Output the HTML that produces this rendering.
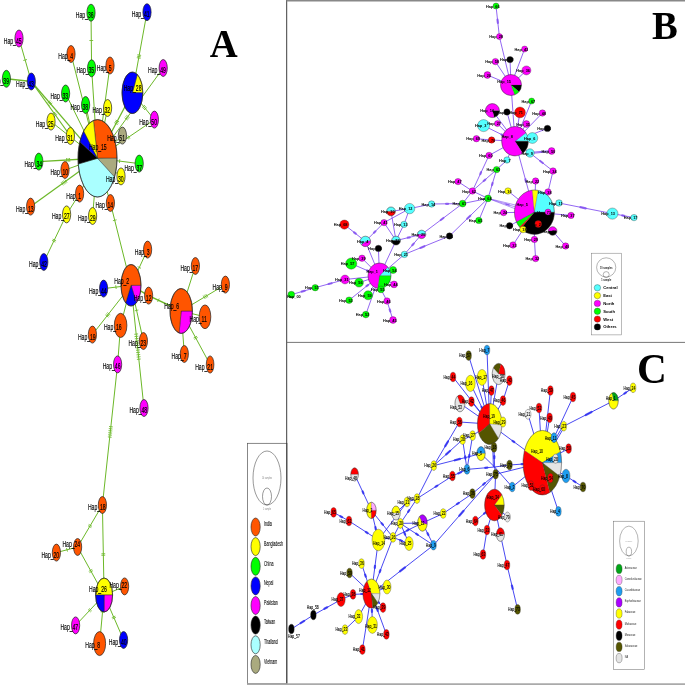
<!DOCTYPE html><html><head><meta charset="utf-8"><title>Haplotype networks</title>
<style>html,body{margin:0;padding:0;background:#fff}svg{display:block}text{font-family:"Liberation Sans",sans-serif}.ser{font-family:"Liberation Serif",serif;font-weight:bold}</style></head><body>
<svg width="685" height="685" viewBox="0 0 685 685">
<rect width="685" height="685" fill="#fff"/>
<g id="panelA">
<line x1="91.0" y1="12.7" x2="91.6" y2="68.3" stroke="#6cb828" stroke-width="1.0"/>
<path d="M93.2 40.5L89.4 40.5" stroke="#6cb828" stroke-width="0.85" fill="none"/>
<line x1="91.6" y1="68.3" x2="97.5" y2="158.3" stroke="#6cb828" stroke-width="1.0"/>
<line x1="71.0" y1="54.0" x2="97.5" y2="158.3" stroke="#6cb828" stroke-width="1.0"/>
<line x1="65.6" y1="93.5" x2="97.5" y2="158.3" stroke="#6cb828" stroke-width="1.0"/>
<path d="M91.2 141.3L87.8 142.9" stroke="#6cb828" stroke-width="0.85" fill="none"/>
<line x1="85.6" y1="105.0" x2="97.5" y2="158.3" stroke="#6cb828" stroke-width="1.0"/>
<line x1="107.6" y1="108.0" x2="97.5" y2="158.3" stroke="#6cb828" stroke-width="1.0"/>
<line x1="110.0" y1="65.5" x2="97.5" y2="158.3" stroke="#6cb828" stroke-width="1.0"/>
<path d="M101.9 140.0L98.1 139.5" stroke="#6cb828" stroke-width="0.85" fill="none"/>
<line x1="19.0" y1="38.5" x2="31.3" y2="81.5" stroke="#6cb828" stroke-width="1.0"/>
<path d="M27.0 59.5L23.3 60.5" stroke="#6cb828" stroke-width="0.85" fill="none"/>
<line x1="6.4" y1="78.8" x2="31.3" y2="81.5" stroke="#6cb828" stroke-width="1.4"/>
<line x1="31.3" y1="81.5" x2="97.5" y2="158.3" stroke="#6cb828" stroke-width="1.2"/>
<path d="M50.3 100.6L47.4 103.1M51.3 101.8L48.4 104.2M52.3 102.9L49.4 105.4" stroke="#6cb828" stroke-width="0.85" fill="none"/>
<line x1="31.3" y1="81.5" x2="70.4" y2="136.0" stroke="#6cb828" stroke-width="1.2"/>
<path d="M55.4 111.9L52.3 114.1M56.3 113.1L53.2 115.3M57.2 114.3L54.1 116.5" stroke="#6cb828" stroke-width="0.85" fill="none"/>
<line x1="51.0" y1="121.6" x2="97.5" y2="158.3" stroke="#6cb828" stroke-width="1.0"/>
<line x1="147.0" y1="12.2" x2="132.4" y2="92.8" stroke="#6cb828" stroke-width="1.0"/>
<path d="M141.1 55.4L137.4 54.7M140.8 56.9L137.1 56.2M140.6 58.3L136.8 57.7" stroke="#6cb828" stroke-width="0.85" fill="none"/>
<line x1="163.2" y1="68.0" x2="97.5" y2="158.3" stroke="#6cb828" stroke-width="1.0"/>
<path d="M129.5 117.6L126.4 115.3M128.6 118.8L125.5 116.5M127.7 120.0L124.6 117.8" stroke="#6cb828" stroke-width="0.85" fill="none"/>
<line x1="154.4" y1="119.6" x2="132.4" y2="92.8" stroke="#6cb828" stroke-width="1.0"/>
<path d="M144.0 109.9L146.9 107.5M143.0 108.7L146.0 106.3M142.1 107.6L145.0 105.2" stroke="#6cb828" stroke-width="0.85" fill="none"/>
<line x1="132.4" y1="92.8" x2="97.5" y2="158.3" stroke="#6cb828" stroke-width="1.3"/>
<path d="M119.1 121.8L115.7 120.1M118.4 123.2L115.0 121.4M117.7 124.5L114.3 122.7" stroke="#6cb828" stroke-width="0.85" fill="none"/>
<line x1="154.4" y1="119.6" x2="97.5" y2="158.3" stroke="#6cb828" stroke-width="1.0"/>
<path d="M129.9 138.6L127.8 135.4M128.7 139.4L126.5 136.3" stroke="#6cb828" stroke-width="0.85" fill="none"/>
<line x1="122.4" y1="135.6" x2="97.5" y2="158.3" stroke="#6cb828" stroke-width="1.0"/>
<line x1="38.8" y1="161.6" x2="97.5" y2="158.3" stroke="#6cb828" stroke-width="1.4"/>
<path d="M66.5 158.1L66.8 161.9M68.0 158.1L68.3 161.8M69.5 158.0L69.8 161.8" stroke="#6cb828" stroke-width="0.85" fill="none"/>
<line x1="65.0" y1="170.0" x2="97.5" y2="158.3" stroke="#6cb828" stroke-width="1.0"/>
<line x1="30.6" y1="206.6" x2="97.5" y2="158.3" stroke="#6cb828" stroke-width="1.2"/>
<path d="M61.1 182.2L63.3 185.3M62.3 181.3L64.6 184.4M63.5 180.5L65.8 183.6M64.8 179.6L67.0 182.7" stroke="#6cb828" stroke-width="0.85" fill="none"/>
<line x1="79.6" y1="193.6" x2="97.5" y2="158.3" stroke="#6cb828" stroke-width="1.0"/>
<line x1="66.6" y1="214.4" x2="79.6" y2="193.6" stroke="#6cb828" stroke-width="1.0"/>
<line x1="66.6" y1="214.4" x2="43.8" y2="262.0" stroke="#6cb828" stroke-width="1.0"/>
<path d="M56.1 240.7L52.7 239.1M55.4 242.1L52.0 240.4" stroke="#6cb828" stroke-width="0.85" fill="none"/>
<line x1="92.6" y1="216.0" x2="97.5" y2="158.3" stroke="#6cb828" stroke-width="1.0"/>
<line x1="110.4" y1="203.0" x2="97.5" y2="158.3" stroke="#6cb828" stroke-width="1.0"/>
<line x1="110.4" y1="203.0" x2="131.0" y2="285.3" stroke="#6cb828" stroke-width="1.0"/>
<path d="M116.6 219.8L112.9 220.7" stroke="#6cb828" stroke-width="0.85" fill="none"/>
<line x1="121.0" y1="176.4" x2="97.5" y2="158.3" stroke="#6cb828" stroke-width="1.0"/>
<line x1="139.2" y1="163.6" x2="97.5" y2="158.3" stroke="#6cb828" stroke-width="1.0"/>
<path d="M119.4 163.0L119.8 159.2" stroke="#6cb828" stroke-width="0.85" fill="none"/>
<line x1="147.6" y1="249.6" x2="131.0" y2="285.3" stroke="#6cb828" stroke-width="1.0"/>
<path d="M141.0 268.3L137.6 266.6" stroke="#6cb828" stroke-width="0.85" fill="none"/>
<line x1="103.6" y1="288.6" x2="131.0" y2="285.3" stroke="#6cb828" stroke-width="1.0"/>
<path d="M115.7 285.2L116.2 289.0" stroke="#6cb828" stroke-width="0.85" fill="none"/>
<line x1="92.4" y1="334.6" x2="131.0" y2="285.3" stroke="#6cb828" stroke-width="1.0"/>
<path d="M105.4 314.9L108.4 317.2M106.3 313.7L109.3 316.1M107.3 312.5L110.3 314.9" stroke="#6cb828" stroke-width="0.85" fill="none"/>
<line x1="120.6" y1="325.4" x2="131.0" y2="285.3" stroke="#6cb828" stroke-width="1.0"/>
<line x1="120.6" y1="325.4" x2="117.6" y2="364.4" stroke="#6cb828" stroke-width="1.0"/>
<line x1="148.6" y1="295.6" x2="131.0" y2="285.3" stroke="#6cb828" stroke-width="1.4"/>
<line x1="148.6" y1="295.6" x2="181.2" y2="311.0" stroke="#6cb828" stroke-width="1.4"/>
<path d="M159.2 298.5L157.6 301.9" stroke="#6cb828" stroke-width="0.85" fill="none"/>
<line x1="143.4" y1="341.0" x2="131.0" y2="285.3" stroke="#6cb828" stroke-width="1.0"/>
<path d="M134.7 310.8L138.4 310.0" stroke="#6cb828" stroke-width="0.85" fill="none"/>
<line x1="131.0" y1="285.3" x2="144.0" y2="408.0" stroke="#6cb828" stroke-width="1.0"/>
<path d="M138.1 333.9L134.3 334.3M138.3 336.2L134.5 336.6M138.5 338.4L134.8 338.8M138.8 340.7L135.0 341.1M139.0 343.0L135.2 343.4M139.3 345.3L135.5 345.7M139.5 347.6L135.7 348.0M139.8 349.9L136.0 350.3M140.0 352.2L136.2 352.6M140.2 354.5L136.5 354.9M140.5 356.7L136.7 357.1M140.7 359.0L136.9 359.4" stroke="#6cb828" stroke-width="0.85" fill="none"/>
<line x1="195.4" y1="266.0" x2="181.2" y2="311.0" stroke="#6cb828" stroke-width="1.0"/>
<path d="M188.0 295.8L184.4 294.7" stroke="#6cb828" stroke-width="0.85" fill="none"/>
<line x1="225.4" y1="284.6" x2="181.2" y2="311.0" stroke="#6cb828" stroke-width="1.0"/>
<path d="M207.8 297.3L205.8 294.1M206.5 298.1L204.5 294.8M205.2 298.9L203.2 295.6" stroke="#6cb828" stroke-width="0.85" fill="none"/>
<line x1="205.0" y1="316.8" x2="181.2" y2="311.0" stroke="#6cb828" stroke-width="1.0"/>
<line x1="184.3" y1="354.0" x2="181.2" y2="311.0" stroke="#6cb828" stroke-width="1.0"/>
<line x1="210.1" y1="364.5" x2="181.2" y2="311.0" stroke="#6cb828" stroke-width="1.0"/>
<path d="M194.3 339.3L197.7 337.5M193.6 338.0L197.0 336.2" stroke="#6cb828" stroke-width="0.85" fill="none"/>
<line x1="117.6" y1="364.4" x2="102.4" y2="505.0" stroke="#6cb828" stroke-width="1.0"/>
<path d="M112.8 426.9L109.0 426.5M112.5 429.0L108.8 428.6M112.3 431.0L108.5 430.6M112.1 433.1L108.3 432.7M111.9 435.2L108.1 434.8M111.6 437.3L107.9 436.9" stroke="#6cb828" stroke-width="0.85" fill="none"/>
<line x1="102.4" y1="505.0" x2="77.6" y2="547.0" stroke="#6cb828" stroke-width="1.0"/>
<path d="M92.0 526.3L88.7 524.4M91.3 527.6L88.0 525.7" stroke="#6cb828" stroke-width="0.85" fill="none"/>
<line x1="77.6" y1="547.0" x2="56.4" y2="552.6" stroke="#6cb828" stroke-width="1.0"/>
<path d="M67.5 551.6L66.5 548.0" stroke="#6cb828" stroke-width="0.85" fill="none"/>
<line x1="77.6" y1="547.0" x2="104.1" y2="595.0" stroke="#6cb828" stroke-width="1.0"/>
<path d="M92.2 569.4L88.8 571.3M92.9 570.7L89.5 572.6" stroke="#6cb828" stroke-width="0.85" fill="none"/>
<line x1="102.4" y1="505.0" x2="104.1" y2="595.0" stroke="#6cb828" stroke-width="1.0"/>
<path d="M105.2 553.7L101.4 553.8M105.2 555.2L101.4 555.3" stroke="#6cb828" stroke-width="0.85" fill="none"/>
<line x1="104.1" y1="595.0" x2="124.6" y2="586.4" stroke="#6cb828" stroke-width="1.0"/>
<line x1="104.1" y1="595.0" x2="75.6" y2="625.4" stroke="#6cb828" stroke-width="1.0"/>
<path d="M91.7 611.0L89.0 608.4M90.7 612.0L88.0 609.4" stroke="#6cb828" stroke-width="0.85" fill="none"/>
<line x1="104.1" y1="595.0" x2="99.6" y2="643.6" stroke="#6cb828" stroke-width="1.0"/>
<path d="M104.4 612.2L100.6 611.8" stroke="#6cb828" stroke-width="0.85" fill="none"/>
<line x1="104.1" y1="595.0" x2="123.6" y2="640.0" stroke="#6cb828" stroke-width="1.0"/>
<path d="M115.3 616.1L111.8 617.6M115.9 617.4L112.4 618.9" stroke="#6cb828" stroke-width="0.85" fill="none"/>
<ellipse cx="91.0" cy="12.7" rx="4.1" ry="8.5" fill="#00ff00" stroke="#222" stroke-width="0.7"/>
<ellipse cx="19.0" cy="38.5" rx="4.1" ry="8.5" fill="#ff00ff" stroke="#222" stroke-width="0.7"/>
<ellipse cx="71.0" cy="54.0" rx="4.1" ry="8.5" fill="#ff5500" stroke="#222" stroke-width="0.7"/>
<ellipse cx="91.6" cy="68.3" rx="4.1" ry="8.5" fill="#00ff00" stroke="#222" stroke-width="0.7"/>
<ellipse cx="110.0" cy="65.5" rx="4.1" ry="8.5" fill="#ff5500" stroke="#222" stroke-width="0.7"/>
<ellipse cx="6.4" cy="78.8" rx="4.1" ry="8.5" fill="#00ff00" stroke="#222" stroke-width="0.7"/>
<ellipse cx="31.3" cy="81.5" rx="4.1" ry="8.5" fill="#0000ff" stroke="#222" stroke-width="0.7"/>
<ellipse cx="65.6" cy="93.5" rx="4.1" ry="8.5" fill="#00ff00" stroke="#222" stroke-width="0.7"/>
<ellipse cx="85.6" cy="105.0" rx="4.1" ry="8.5" fill="#00ff00" stroke="#222" stroke-width="0.7"/>
<ellipse cx="107.6" cy="108.0" rx="4.1" ry="8.5" fill="#ffff00" stroke="#222" stroke-width="0.7"/>
<ellipse cx="51.0" cy="121.6" rx="4.1" ry="8.5" fill="#ffff00" stroke="#222" stroke-width="0.7"/>
<ellipse cx="70.4" cy="136.0" rx="4.1" ry="8.5" fill="#ffff00" stroke="#222" stroke-width="0.7"/>
<ellipse cx="147.0" cy="12.2" rx="4.1" ry="8.5" fill="#0000ff" stroke="#222" stroke-width="0.7"/>
<ellipse cx="163.2" cy="68.0" rx="4.1" ry="8.5" fill="#ff00ff" stroke="#222" stroke-width="0.7"/>
<ellipse cx="154.4" cy="119.6" rx="4.1" ry="8.5" fill="#ff00ff" stroke="#222" stroke-width="0.7"/>
<path d="M132.4 92.8L137.28 74.52A10.4 20.7 0 0 1 142.80 92.80Z" fill="#ffff00" stroke="#222" stroke-width="0.42" stroke-linejoin="round"/>
<path d="M132.4 92.8L142.80 92.80A10.4 20.7 0 1 1 137.28 74.52Z" fill="#0000ff" stroke="#222" stroke-width="0.42" stroke-linejoin="round"/>
<ellipse cx="132.4" cy="92.8" rx="10.4" ry="20.7" fill="none" stroke="#222" stroke-width="0.7"/>
<ellipse cx="122.4" cy="135.6" rx="4.1" ry="8.5" fill="#aaaa7f" stroke="#222" stroke-width="0.7"/>
<path d="M97.5 158.3L93.45 120.45A19.5 38.7 0 0 1 117.00 158.30Z" fill="#ff5500" stroke="#222" stroke-width="0.42" stroke-linejoin="round"/>
<path d="M97.5 158.3L117.00 158.30A19.5 38.7 0 0 1 114.56 177.06Z" fill="#aaaa7f" stroke="#222" stroke-width="0.42" stroke-linejoin="round"/>
<path d="M97.5 158.3L114.56 177.06A19.5 38.7 0 0 1 78.21 164.02Z" fill="#aaffff" stroke="#222" stroke-width="0.42" stroke-linejoin="round"/>
<path d="M97.5 158.3L78.21 164.02A19.5 38.7 0 0 1 79.88 141.70Z" fill="#000000" stroke="#222" stroke-width="0.42" stroke-linejoin="round"/>
<path d="M97.5 158.3L79.88 141.70A19.5 38.7 0 0 1 83.71 130.93Z" fill="#0000ff" stroke="#222" stroke-width="0.42" stroke-linejoin="round"/>
<path d="M97.5 158.3L83.71 130.93A19.5 38.7 0 0 1 93.45 120.45Z" fill="#ffff00" stroke="#222" stroke-width="0.42" stroke-linejoin="round"/>
<ellipse cx="97.5" cy="158.3" rx="19.5" ry="38.7" fill="none" stroke="#222" stroke-width="0.7"/>
<ellipse cx="38.8" cy="161.6" rx="4.1" ry="8.5" fill="#00ff00" stroke="#222" stroke-width="0.7"/>
<ellipse cx="65.0" cy="170.0" rx="4.1" ry="8.5" fill="#ff5500" stroke="#222" stroke-width="0.7"/>
<ellipse cx="79.6" cy="193.6" rx="4.1" ry="8.5" fill="#ff5500" stroke="#222" stroke-width="0.7"/>
<ellipse cx="30.6" cy="206.6" rx="4.1" ry="8.5" fill="#ff5500" stroke="#222" stroke-width="0.7"/>
<ellipse cx="66.6" cy="214.4" rx="4.1" ry="8.5" fill="#ffff00" stroke="#222" stroke-width="0.7"/>
<ellipse cx="92.6" cy="216.0" rx="4.1" ry="8.5" fill="#ffff00" stroke="#222" stroke-width="0.7"/>
<ellipse cx="110.4" cy="203.0" rx="4.1" ry="8.5" fill="#ff5500" stroke="#222" stroke-width="0.7"/>
<ellipse cx="121.0" cy="176.4" rx="4.1" ry="8.5" fill="#ffff00" stroke="#222" stroke-width="0.7"/>
<ellipse cx="139.2" cy="163.6" rx="4.1" ry="8.5" fill="#00ff00" stroke="#222" stroke-width="0.7"/>
<ellipse cx="43.8" cy="262.0" rx="4.1" ry="8.5" fill="#0000ff" stroke="#222" stroke-width="0.7"/>
<ellipse cx="103.6" cy="288.6" rx="4.1" ry="8.5" fill="#0000ff" stroke="#222" stroke-width="0.7"/>
<path d="M131.0 285.3L141.00 285.30A10.0 20.7 0 0 1 136.36 302.78Z" fill="#ff00ff" stroke="#222" stroke-width="0.42" stroke-linejoin="round"/>
<path d="M131.0 285.3L136.36 302.78A10.0 20.7 0 0 1 125.70 302.85Z" fill="#0000ff" stroke="#222" stroke-width="0.42" stroke-linejoin="round"/>
<path d="M131.0 285.3L125.70 302.85A10.0 20.7 0 1 1 141.00 285.30Z" fill="#ff5500" stroke="#222" stroke-width="0.42" stroke-linejoin="round"/>
<ellipse cx="131.0" cy="285.3" rx="10.0" ry="20.7" fill="none" stroke="#222" stroke-width="0.7"/>
<ellipse cx="147.6" cy="249.6" rx="4.1" ry="8.5" fill="#ff5500" stroke="#222" stroke-width="0.7"/>
<ellipse cx="148.6" cy="295.6" rx="4.1" ry="8.5" fill="#ff5500" stroke="#222" stroke-width="0.7"/>
<ellipse cx="92.4" cy="334.6" rx="4.1" ry="8.5" fill="#ff5500" stroke="#222" stroke-width="0.7"/>
<ellipse cx="120.6" cy="325.4" rx="6.3" ry="12.1" fill="#ff5500" stroke="#222" stroke-width="0.7"/>
<path d="M181.2 311.0L192.40 311.00A11.2 22.4 0 0 1 179.06 332.99Z" fill="#ff00ff" stroke="#222" stroke-width="0.42" stroke-linejoin="round"/>
<path d="M181.2 311.0L179.06 332.99A11.2 22.4 0 1 1 192.40 311.00Z" fill="#ff5500" stroke="#222" stroke-width="0.42" stroke-linejoin="round"/>
<ellipse cx="181.2" cy="311.0" rx="11.2" ry="22.4" fill="none" stroke="#222" stroke-width="0.7"/>
<ellipse cx="195.4" cy="266.0" rx="4.1" ry="8.5" fill="#ff5500" stroke="#222" stroke-width="0.7"/>
<ellipse cx="225.4" cy="284.6" rx="4.1" ry="8.5" fill="#ff5500" stroke="#222" stroke-width="0.7"/>
<ellipse cx="205.0" cy="316.8" rx="5.8" ry="11.9" fill="#ff5500" stroke="#222" stroke-width="0.7"/>
<ellipse cx="184.3" cy="354.0" rx="4.1" ry="8.5" fill="#ff5500" stroke="#222" stroke-width="0.7"/>
<ellipse cx="143.4" cy="341.0" rx="4.1" ry="8.5" fill="#ff5500" stroke="#222" stroke-width="0.7"/>
<ellipse cx="210.1" cy="364.5" rx="3.8" ry="8.6" fill="#ff5500" stroke="#222" stroke-width="0.7"/>
<ellipse cx="117.6" cy="364.4" rx="4.1" ry="8.5" fill="#ff00ff" stroke="#222" stroke-width="0.7"/>
<ellipse cx="144.0" cy="408.0" rx="4.1" ry="8.5" fill="#ff00ff" stroke="#222" stroke-width="0.7"/>
<ellipse cx="102.4" cy="505.0" rx="4.1" ry="8.5" fill="#ff5500" stroke="#222" stroke-width="0.7"/>
<ellipse cx="77.6" cy="547.0" rx="4.1" ry="8.5" fill="#ff5500" stroke="#222" stroke-width="0.7"/>
<ellipse cx="56.4" cy="552.6" rx="4.1" ry="8.5" fill="#ff5500" stroke="#222" stroke-width="0.7"/>
<path d="M104.1 595.0L95.60 595.00A8.5 17.0 0 0 1 112.60 595.00Z" fill="#ffff00" stroke="#222" stroke-width="0.42" stroke-linejoin="round"/>
<path d="M104.1 595.0L112.60 595.00A8.5 17.0 0 0 1 104.10 612.00Z" fill="#ff00ff" stroke="#222" stroke-width="0.42" stroke-linejoin="round"/>
<path d="M104.1 595.0L104.10 612.00A8.5 17.0 0 0 1 95.60 595.00Z" fill="#0000ff" stroke="#222" stroke-width="0.42" stroke-linejoin="round"/>
<ellipse cx="104.1" cy="595.0" rx="8.5" ry="17.0" fill="none" stroke="#222" stroke-width="0.7"/>
<ellipse cx="124.6" cy="586.4" rx="4.1" ry="8.5" fill="#ff5500" stroke="#222" stroke-width="0.7"/>
<ellipse cx="75.6" cy="625.4" rx="4.1" ry="8.5" fill="#ff00ff" stroke="#222" stroke-width="0.7"/>
<ellipse cx="99.6" cy="643.6" rx="6.0" ry="12.0" fill="#ff5500" stroke="#222" stroke-width="0.7"/>
<ellipse cx="123.6" cy="640.0" rx="4.1" ry="8.5" fill="#0000ff" stroke="#222" stroke-width="0.7"/>
<text transform="translate(93.6 17.7) scale(0.525 1)" font-size="9.7" font-weight="normal" text-anchor="end" fill="#000" stroke="#000" stroke-width="0.17">Hap_36</text>
<text transform="translate(21.6 43.5) scale(0.525 1)" font-size="9.7" font-weight="normal" text-anchor="end" fill="#000" stroke="#000" stroke-width="0.17">Hap_45</text>
<text transform="translate(73.2 59.0) scale(0.525 1)" font-size="9.7" font-weight="normal" text-anchor="end" fill="#000" stroke="#000" stroke-width="0.17">Hap_4</text>
<text transform="translate(94.2 73.3) scale(0.525 1)" font-size="9.7" font-weight="normal" text-anchor="end" fill="#000" stroke="#000" stroke-width="0.17">Hap_35</text>
<text transform="translate(111.7 70.5) scale(0.525 1)" font-size="9.7" font-weight="normal" text-anchor="end" fill="#000" stroke="#000" stroke-width="0.17">Hap_5</text>
<text transform="translate(9.0 83.8) scale(0.525 1)" font-size="9.7" font-weight="normal" text-anchor="end" fill="#000" stroke="#000" stroke-width="0.17">Hap_39</text>
<text transform="translate(33.9 86.5) scale(0.525 1)" font-size="9.7" font-weight="normal" text-anchor="end" fill="#000" stroke="#000" stroke-width="0.17">Hap_43</text>
<text transform="translate(68.2 98.5) scale(0.525 1)" font-size="9.7" font-weight="normal" text-anchor="end" fill="#000" stroke="#000" stroke-width="0.17">Hap_33</text>
<text transform="translate(88.2 110.0) scale(0.525 1)" font-size="9.7" font-weight="normal" text-anchor="end" fill="#000" stroke="#000" stroke-width="0.17">Hap_38</text>
<text transform="translate(110.2 113.0) scale(0.525 1)" font-size="9.7" font-weight="normal" text-anchor="end" fill="#000" stroke="#000" stroke-width="0.17">Hap_32</text>
<text transform="translate(53.6 126.6) scale(0.525 1)" font-size="9.7" font-weight="normal" text-anchor="end" fill="#000" stroke="#000" stroke-width="0.17">Hap_25</text>
<text transform="translate(73.0 140.5) scale(0.525 1)" font-size="9.7" font-weight="normal" text-anchor="end" fill="#000" stroke="#000" stroke-width="0.17">Hap_31</text>
<text transform="translate(149.6 17.2) scale(0.525 1)" font-size="9.7" font-weight="normal" text-anchor="end" fill="#000" stroke="#000" stroke-width="0.17">Hap_41</text>
<text transform="translate(165.8 73.0) scale(0.525 1)" font-size="9.7" font-weight="normal" text-anchor="end" fill="#000" stroke="#000" stroke-width="0.17">Hap_49</text>
<text transform="translate(157.0 124.6) scale(0.525 1)" font-size="9.7" font-weight="normal" text-anchor="end" fill="#000" stroke="#000" stroke-width="0.17">Hap_50</text>
<text transform="translate(141.5 90.7) scale(0.525 1)" font-size="9.7" font-weight="normal" text-anchor="end" fill="#000" stroke="#000" stroke-width="0.17">Hap_28</text>
<text transform="translate(125.0 140.5) scale(0.525 1)" font-size="9.7" font-weight="normal" text-anchor="end" fill="#000" stroke="#000" stroke-width="0.17">Hap_51</text>
<text transform="translate(106.7 149.5) scale(0.525 1)" font-size="9.7" font-weight="normal" text-anchor="end" fill="#000" stroke="#000" stroke-width="0.17">Hap_15</text>
<text transform="translate(42.2 166.6) scale(0.525 1)" font-size="9.7" font-weight="normal" text-anchor="end" fill="#000" stroke="#000" stroke-width="0.17">Hap_34</text>
<text transform="translate(68.2 175.0) scale(0.525 1)" font-size="9.7" font-weight="normal" text-anchor="end" fill="#000" stroke="#000" stroke-width="0.17">Hap_10</text>
<text transform="translate(81.2 198.6) scale(0.525 1)" font-size="9.7" font-weight="normal" text-anchor="end" fill="#000" stroke="#000" stroke-width="0.17">Hap_1</text>
<text transform="translate(33.7 211.6) scale(0.525 1)" font-size="9.7" font-weight="normal" text-anchor="end" fill="#000" stroke="#000" stroke-width="0.17">Hap_13</text>
<text transform="translate(69.7 219.4) scale(0.525 1)" font-size="9.7" font-weight="normal" text-anchor="end" fill="#000" stroke="#000" stroke-width="0.17">Hap_27</text>
<text transform="translate(95.7 221.0) scale(0.525 1)" font-size="9.7" font-weight="normal" text-anchor="end" fill="#000" stroke="#000" stroke-width="0.17">Hap_29</text>
<text transform="translate(113.2 208.0) scale(0.525 1)" font-size="9.7" font-weight="normal" text-anchor="end" fill="#000" stroke="#000" stroke-width="0.17">Hap_14</text>
<text transform="translate(123.7 181.5) scale(0.525 1)" font-size="9.7" font-weight="normal" text-anchor="end" fill="#000" stroke="#000" stroke-width="0.17">Hap_30</text>
<text transform="translate(142.2 170.5) scale(0.525 1)" font-size="9.7" font-weight="normal" text-anchor="end" fill="#000" stroke="#000" stroke-width="0.17">Hap_37</text>
<text transform="translate(46.8 267.0) scale(0.525 1)" font-size="9.7" font-weight="normal" text-anchor="end" fill="#000" stroke="#000" stroke-width="0.17">Hap_42</text>
<text transform="translate(106.7 293.6) scale(0.525 1)" font-size="9.7" font-weight="normal" text-anchor="end" fill="#000" stroke="#000" stroke-width="0.17">Hap_44</text>
<text transform="translate(129.2 283.5) scale(0.525 1)" font-size="9.7" font-weight="normal" text-anchor="end" fill="#000" stroke="#000" stroke-width="0.17">Hap_2</text>
<text transform="translate(149.7 254.6) scale(0.525 1)" font-size="9.7" font-weight="normal" text-anchor="end" fill="#000" stroke="#000" stroke-width="0.17">Hap_3</text>
<text transform="translate(151.5 300.6) scale(0.525 1)" font-size="9.7" font-weight="normal" text-anchor="end" fill="#000" stroke="#000" stroke-width="0.17">Hap_12</text>
<text transform="translate(95.7 339.6) scale(0.525 1)" font-size="9.7" font-weight="normal" text-anchor="end" fill="#000" stroke="#000" stroke-width="0.17">Hap_19</text>
<text transform="translate(121.7 330.4) scale(0.525 1)" font-size="9.7" font-weight="normal" text-anchor="end" fill="#000" stroke="#000" stroke-width="0.17">Hap_16</text>
<text transform="translate(179.2 308.6) scale(0.525 1)" font-size="9.7" font-weight="normal" text-anchor="end" fill="#000" stroke="#000" stroke-width="0.17">Hap_6</text>
<text transform="translate(198.2 271.0) scale(0.525 1)" font-size="9.7" font-weight="normal" text-anchor="end" fill="#000" stroke="#000" stroke-width="0.17">Hap_17</text>
<text transform="translate(227.5 289.6) scale(0.525 1)" font-size="9.7" font-weight="normal" text-anchor="end" fill="#000" stroke="#000" stroke-width="0.17">Hap_9</text>
<text transform="translate(206.9 322.0) scale(0.525 1)" font-size="9.7" font-weight="normal" text-anchor="end" fill="#000" stroke="#000" stroke-width="0.17">Hap_11</text>
<text transform="translate(186.5 359.0) scale(0.525 1)" font-size="9.7" font-weight="normal" text-anchor="end" fill="#000" stroke="#000" stroke-width="0.17">Hap_7</text>
<text transform="translate(146.2 346.0) scale(0.525 1)" font-size="9.7" font-weight="normal" text-anchor="end" fill="#000" stroke="#000" stroke-width="0.17">Hap_23</text>
<text transform="translate(213.0 369.5) scale(0.525 1)" font-size="9.7" font-weight="normal" text-anchor="end" fill="#000" stroke="#000" stroke-width="0.17">Hap_21</text>
<text transform="translate(120.5 369.4) scale(0.525 1)" font-size="9.7" font-weight="normal" text-anchor="end" fill="#000" stroke="#000" stroke-width="0.17">Hap_46</text>
<text transform="translate(147.2 413.0) scale(0.525 1)" font-size="9.7" font-weight="normal" text-anchor="end" fill="#000" stroke="#000" stroke-width="0.17">Hap_48</text>
<text transform="translate(105.7 509.5) scale(0.525 1)" font-size="9.7" font-weight="normal" text-anchor="end" fill="#000" stroke="#000" stroke-width="0.17">Hap_18</text>
<text transform="translate(80.2 546.5) scale(0.525 1)" font-size="9.7" font-weight="normal" text-anchor="end" fill="#000" stroke="#000" stroke-width="0.17">Hap_24</text>
<text transform="translate(59.2 557.6) scale(0.525 1)" font-size="9.7" font-weight="normal" text-anchor="end" fill="#000" stroke="#000" stroke-width="0.17">Hap_20</text>
<text transform="translate(106.8 591.6) scale(0.525 1)" font-size="9.7" font-weight="normal" text-anchor="end" fill="#000" stroke="#000" stroke-width="0.17">Hap_26</text>
<text transform="translate(127.2 587.5) scale(0.525 1)" font-size="9.7" font-weight="normal" text-anchor="end" fill="#000" stroke="#000" stroke-width="0.17">Hap_22</text>
<text transform="translate(78.2 630.4) scale(0.525 1)" font-size="9.7" font-weight="normal" text-anchor="end" fill="#000" stroke="#000" stroke-width="0.17">Hap_47</text>
<text transform="translate(100.2 647.5) scale(0.525 1)" font-size="9.7" font-weight="normal" text-anchor="end" fill="#000" stroke="#000" stroke-width="0.17">Hap_8</text>
<text transform="translate(126.6 645.0) scale(0.525 1)" font-size="9.7" font-weight="normal" text-anchor="end" fill="#000" stroke="#000" stroke-width="0.17">Hap_40</text>
<text class="ser" transform="translate(209.8 57) scale(0.96 1)" font-size="40.3">A</text>
<rect x="247.5" y="443.3" width="39.5" height="240.4" fill="#fff" stroke="#555" stroke-width="0.7"/>
<ellipse cx="267.0" cy="478.0" rx="14.0" ry="27.0" fill="none" stroke="#333" stroke-width="0.5"/>
<ellipse cx="267.0" cy="496.5" rx="4.5" ry="8.5" fill="none" stroke="#333" stroke-width="0.5"/>
<text transform="translate(267.0 479.3) scale(0.55 1)" font-size="3.6" font-weight="normal" text-anchor="middle" fill="#888">10 samples</text>
<text transform="translate(267.0 509.8) scale(0.55 1)" font-size="3.6" font-weight="normal" text-anchor="middle" fill="#888">1 sample</text>
<ellipse cx="255.6" cy="527.0" rx="4.6" ry="9.0" fill="#ff5500" stroke="#222" stroke-width="0.6"/>
<text transform="translate(264.0 526.2) scale(0.48 1)" font-size="7.5" font-weight="normal" text-anchor="start" fill="#000" stroke="#000" stroke-width="0.1">India</text>
<ellipse cx="255.6" cy="546.6" rx="4.6" ry="9.0" fill="#ffff00" stroke="#222" stroke-width="0.6"/>
<text transform="translate(264.0 545.8) scale(0.48 1)" font-size="7.5" font-weight="normal" text-anchor="start" fill="#000" stroke="#000" stroke-width="0.1">Bangladesh</text>
<ellipse cx="255.6" cy="566.3" rx="4.6" ry="9.0" fill="#00ff00" stroke="#222" stroke-width="0.6"/>
<text transform="translate(264.0 565.5) scale(0.48 1)" font-size="7.5" font-weight="normal" text-anchor="start" fill="#000" stroke="#000" stroke-width="0.1">China</text>
<ellipse cx="255.6" cy="585.9" rx="4.6" ry="9.0" fill="#0000ff" stroke="#222" stroke-width="0.6"/>
<text transform="translate(264.0 585.1) scale(0.48 1)" font-size="7.5" font-weight="normal" text-anchor="start" fill="#000" stroke="#000" stroke-width="0.1">Nepal</text>
<ellipse cx="255.6" cy="605.5" rx="4.6" ry="9.0" fill="#ff00ff" stroke="#222" stroke-width="0.6"/>
<text transform="translate(264.0 604.7) scale(0.48 1)" font-size="7.5" font-weight="normal" text-anchor="start" fill="#000" stroke="#000" stroke-width="0.1">Pakistan</text>
<ellipse cx="255.6" cy="625.1" rx="4.6" ry="9.0" fill="#000000" stroke="#222" stroke-width="0.6"/>
<text transform="translate(264.0 624.4) scale(0.48 1)" font-size="7.5" font-weight="normal" text-anchor="start" fill="#000" stroke="#000" stroke-width="0.1">Taiwan</text>
<ellipse cx="255.6" cy="644.8" rx="4.6" ry="9.0" fill="#aaffff" stroke="#222" stroke-width="0.6"/>
<text transform="translate(264.0 644.0) scale(0.48 1)" font-size="7.5" font-weight="normal" text-anchor="start" fill="#000" stroke="#000" stroke-width="0.1">Thailand</text>
<ellipse cx="255.6" cy="664.4" rx="4.6" ry="9.0" fill="#aaaa7f" stroke="#222" stroke-width="0.6"/>
<text transform="translate(264.0 663.6) scale(0.48 1)" font-size="7.5" font-weight="normal" text-anchor="start" fill="#000" stroke="#000" stroke-width="0.1">Vietnam</text>
</g>
<g id="panelB">
<line x1="496.0" y1="6.0" x2="499.4" y2="36.6" stroke="#7f4cf0" stroke-width="0.85"/>
<line x1="497.5" y1="19.7" x2="497.9" y2="22.9" stroke="#7f4cf0" stroke-width="2.2" stroke-opacity="0.8" stroke-linecap="round"/>
<line x1="499.4" y1="36.6" x2="511.0" y2="85.0" stroke="#7f4cf0" stroke-width="0.85"/>
<line x1="524.6" y1="49.0" x2="511.0" y2="85.0" stroke="#7f4cf0" stroke-width="0.85"/>
<line x1="514.1" y1="76.8" x2="513.3" y2="78.8" stroke="#7f4cf0" stroke-width="2.2" stroke-opacity="0.8" stroke-linecap="round"/>
<line x1="510.0" y1="59.6" x2="511.0" y2="85.0" stroke="#7f4cf0" stroke-width="0.85"/>
<line x1="495.4" y1="61.6" x2="511.0" y2="85.0" stroke="#7f4cf0" stroke-width="0.85"/>
<line x1="526.4" y1="70.4" x2="511.0" y2="85.0" stroke="#7f4cf0" stroke-width="0.85"/>
<line x1="487.4" y1="75.0" x2="511.0" y2="85.0" stroke="#7f4cf0" stroke-width="0.85"/>
<line x1="503.0" y1="81.6" x2="504.9" y2="82.4" stroke="#7f4cf0" stroke-width="2.2" stroke-opacity="0.8" stroke-linecap="round"/>
<line x1="511.0" y1="85.0" x2="515.0" y2="141.2" stroke="#7f4cf0" stroke-width="0.85"/>
<line x1="531.6" y1="101.0" x2="515.0" y2="141.2" stroke="#7f4cf0" stroke-width="0.85"/>
<line x1="492.4" y1="110.6" x2="515.0" y2="141.2" stroke="#7f4cf0" stroke-width="0.85"/>
<line x1="507.0" y1="112.0" x2="515.0" y2="141.2" stroke="#7f4cf0" stroke-width="0.85"/>
<line x1="520.0" y1="112.4" x2="515.0" y2="141.2" stroke="#7f4cf0" stroke-width="0.85"/>
<line x1="542.4" y1="113.0" x2="515.0" y2="141.2" stroke="#7f4cf0" stroke-width="0.85"/>
<line x1="483.6" y1="125.6" x2="515.0" y2="141.2" stroke="#7f4cf0" stroke-width="0.85"/>
<line x1="501.5" y1="134.5" x2="503.4" y2="135.4" stroke="#7f4cf0" stroke-width="2.2" stroke-opacity="0.8" stroke-linecap="round"/>
<line x1="497.4" y1="123.6" x2="515.0" y2="141.2" stroke="#7f4cf0" stroke-width="0.85"/>
<line x1="526.4" y1="124.0" x2="515.0" y2="141.2" stroke="#7f4cf0" stroke-width="0.85"/>
<line x1="547.4" y1="128.4" x2="515.0" y2="141.2" stroke="#7f4cf0" stroke-width="0.85"/>
<line x1="532.4" y1="138.0" x2="515.0" y2="141.2" stroke="#7f4cf0" stroke-width="0.85"/>
<line x1="530.0" y1="153.0" x2="515.0" y2="141.2" stroke="#7f4cf0" stroke-width="0.85"/>
<line x1="507.0" y1="160.0" x2="515.0" y2="141.2" stroke="#7f4cf0" stroke-width="0.85"/>
<line x1="476.4" y1="138.7" x2="491.6" y2="140.0" stroke="#7f4cf0" stroke-width="0.85"/>
<line x1="491.6" y1="140.0" x2="515.0" y2="141.2" stroke="#7f4cf0" stroke-width="0.85"/>
<line x1="489.0" y1="155.4" x2="515.0" y2="141.2" stroke="#7f4cf0" stroke-width="0.85"/>
<line x1="530.0" y1="153.0" x2="553.0" y2="171.0" stroke="#7f4cf0" stroke-width="0.85"/>
<line x1="540.2" y1="161.0" x2="542.8" y2="163.0" stroke="#7f4cf0" stroke-width="2.2" stroke-opacity="0.8" stroke-linecap="round"/>
<line x1="553.0" y1="171.0" x2="548.0" y2="192.0" stroke="#7f4cf0" stroke-width="0.85"/>
<line x1="548.0" y1="192.0" x2="534.4" y2="212.2" stroke="#7f4cf0" stroke-width="0.85"/>
<line x1="535.6" y1="181.0" x2="534.4" y2="212.2" stroke="#7f4cf0" stroke-width="0.85"/>
<line x1="515.0" y1="141.2" x2="534.4" y2="212.2" stroke="#7f4cf0" stroke-width="0.85"/>
<line x1="525.4" y1="179.2" x2="525.9" y2="181.3" stroke="#7f4cf0" stroke-width="2.2" stroke-opacity="0.8" stroke-linecap="round"/>
<line x1="508.0" y1="191.0" x2="534.4" y2="212.2" stroke="#7f4cf0" stroke-width="0.85"/>
<line x1="503.6" y1="212.6" x2="534.4" y2="212.2" stroke="#7f4cf0" stroke-width="0.85"/>
<line x1="509.6" y1="225.8" x2="534.4" y2="212.2" stroke="#7f4cf0" stroke-width="0.85"/>
<line x1="559.0" y1="203.0" x2="534.4" y2="212.2" stroke="#7f4cf0" stroke-width="0.85"/>
<line x1="571.0" y1="215.4" x2="534.4" y2="212.2" stroke="#7f4cf0" stroke-width="0.85"/>
<line x1="559.0" y1="203.0" x2="612.4" y2="213.6" stroke="#7f4cf0" stroke-width="0.85"/>
<line x1="580.4" y1="207.2" x2="585.7" y2="208.3" stroke="#7f4cf0" stroke-width="2.2" stroke-opacity="0.8" stroke-linecap="round"/>
<line x1="612.4" y1="213.6" x2="634.0" y2="217.6" stroke="#7f4cf0" stroke-width="0.85"/>
<line x1="622.2" y1="215.4" x2="624.2" y2="215.8" stroke="#7f4cf0" stroke-width="2.2" stroke-opacity="0.8" stroke-linecap="round"/>
<line x1="552.6" y1="231.0" x2="565.6" y2="246.0" stroke="#7f4cf0" stroke-width="0.85"/>
<line x1="534.4" y1="212.2" x2="513.0" y2="245.0" stroke="#7f4cf0" stroke-width="0.85"/>
<line x1="534.4" y1="212.2" x2="534.4" y2="239.4" stroke="#7f4cf0" stroke-width="0.85"/>
<line x1="534.4" y1="239.4" x2="535.6" y2="258.6" stroke="#7f4cf0" stroke-width="0.85"/>
<line x1="507.0" y1="160.0" x2="496.6" y2="169.6" stroke="#7f4cf0" stroke-width="0.85"/>
<line x1="496.6" y1="169.6" x2="488.0" y2="198.4" stroke="#7f4cf0" stroke-width="0.85"/>
<line x1="492.6" y1="183.0" x2="492.0" y2="185.0" stroke="#7f4cf0" stroke-width="2.2" stroke-opacity="0.8" stroke-linecap="round"/>
<line x1="489.0" y1="155.4" x2="472.4" y2="191.0" stroke="#7f4cf0" stroke-width="0.85"/>
<line x1="481.1" y1="172.2" x2="480.3" y2="174.2" stroke="#7f4cf0" stroke-width="2.2" stroke-opacity="0.8" stroke-linecap="round"/>
<line x1="496.6" y1="169.6" x2="472.4" y2="191.0" stroke="#7f4cf0" stroke-width="0.85"/>
<line x1="485.3" y1="179.6" x2="483.7" y2="181.0" stroke="#7f4cf0" stroke-width="2.2" stroke-opacity="0.8" stroke-linecap="round"/>
<line x1="472.4" y1="191.0" x2="458.0" y2="181.6" stroke="#7f4cf0" stroke-width="0.85"/>
<line x1="472.4" y1="191.0" x2="462.6" y2="203.6" stroke="#7f4cf0" stroke-width="0.85"/>
<line x1="472.4" y1="191.0" x2="488.0" y2="198.4" stroke="#7f4cf0" stroke-width="0.85"/>
<line x1="462.6" y1="203.6" x2="488.0" y2="198.4" stroke="#7f4cf0" stroke-width="0.85"/>
<line x1="488.0" y1="198.4" x2="478.8" y2="220.4" stroke="#7f4cf0" stroke-width="0.85"/>
<line x1="488.0" y1="198.4" x2="449.5" y2="236.0" stroke="#7f4cf0" stroke-width="0.85"/>
<line x1="470.3" y1="215.7" x2="467.2" y2="218.7" stroke="#7f4cf0" stroke-width="2.2" stroke-opacity="0.8" stroke-linecap="round"/>
<line x1="449.5" y1="236.0" x2="404.4" y2="254.4" stroke="#7f4cf0" stroke-width="0.85"/>
<line x1="424.4" y1="246.2" x2="420.4" y2="247.9" stroke="#7f4cf0" stroke-width="2.2" stroke-opacity="0.8" stroke-linecap="round"/>
<line x1="462.6" y1="203.6" x2="421.6" y2="234.4" stroke="#7f4cf0" stroke-width="0.85"/>
<line x1="443.4" y1="218.0" x2="440.8" y2="220.0" stroke="#7f4cf0" stroke-width="2.2" stroke-opacity="0.8" stroke-linecap="round"/>
<line x1="421.6" y1="234.4" x2="404.4" y2="254.4" stroke="#7f4cf0" stroke-width="0.85"/>
<line x1="413.7" y1="243.6" x2="412.3" y2="245.2" stroke="#7f4cf0" stroke-width="2.2" stroke-opacity="0.8" stroke-linecap="round"/>
<line x1="462.6" y1="203.6" x2="431.6" y2="204.0" stroke="#7f4cf0" stroke-width="0.85"/>
<line x1="448.1" y1="203.8" x2="446.1" y2="203.8" stroke="#7f4cf0" stroke-width="2.2" stroke-opacity="0.8" stroke-linecap="round"/>
<line x1="431.6" y1="204.0" x2="409.6" y2="208.6" stroke="#7f4cf0" stroke-width="0.85"/>
<line x1="344.4" y1="224.6" x2="365.4" y2="241.4" stroke="#7f4cf0" stroke-width="0.85"/>
<line x1="354.1" y1="232.3" x2="355.7" y2="233.7" stroke="#7f4cf0" stroke-width="2.2" stroke-opacity="0.8" stroke-linecap="round"/>
<line x1="365.4" y1="241.4" x2="379.5" y2="275.8" stroke="#7f4cf0" stroke-width="0.85"/>
<line x1="365.4" y1="241.4" x2="384.0" y2="222.6" stroke="#7f4cf0" stroke-width="0.85"/>
<line x1="374.0" y1="232.7" x2="375.4" y2="231.3" stroke="#7f4cf0" stroke-width="2.2" stroke-opacity="0.8" stroke-linecap="round"/>
<line x1="384.0" y1="222.6" x2="409.6" y2="208.6" stroke="#7f4cf0" stroke-width="0.85"/>
<line x1="391.0" y1="211.4" x2="409.6" y2="208.6" stroke="#7f4cf0" stroke-width="0.85"/>
<line x1="409.6" y1="208.6" x2="404.0" y2="224.4" stroke="#7f4cf0" stroke-width="0.85"/>
<line x1="404.0" y1="224.4" x2="396.0" y2="240.6" stroke="#7f4cf0" stroke-width="0.85"/>
<line x1="384.0" y1="222.6" x2="396.0" y2="240.6" stroke="#7f4cf0" stroke-width="0.85"/>
<line x1="391.0" y1="211.4" x2="396.0" y2="240.6" stroke="#7f4cf0" stroke-width="0.85"/>
<line x1="396.0" y1="240.6" x2="421.6" y2="234.4" stroke="#7f4cf0" stroke-width="0.85"/>
<line x1="407.8" y1="237.7" x2="409.8" y2="237.3" stroke="#7f4cf0" stroke-width="2.2" stroke-opacity="0.8" stroke-linecap="round"/>
<line x1="396.0" y1="240.6" x2="379.5" y2="275.8" stroke="#7f4cf0" stroke-width="0.85"/>
<line x1="378.4" y1="248.4" x2="379.5" y2="275.8" stroke="#7f4cf0" stroke-width="0.85"/>
<line x1="379.1" y1="266.5" x2="379.2" y2="268.6" stroke="#7f4cf0" stroke-width="2.2" stroke-opacity="0.8" stroke-linecap="round"/>
<line x1="404.4" y1="254.4" x2="379.5" y2="275.8" stroke="#7f4cf0" stroke-width="0.85"/>
<line x1="362.0" y1="258.2" x2="379.5" y2="275.8" stroke="#7f4cf0" stroke-width="0.85"/>
<line x1="351.2" y1="263.6" x2="379.5" y2="275.8" stroke="#7f4cf0" stroke-width="0.85"/>
<line x1="367.2" y1="270.5" x2="369.1" y2="271.3" stroke="#7f4cf0" stroke-width="2.2" stroke-opacity="0.8" stroke-linecap="round"/>
<line x1="345.0" y1="279.5" x2="379.5" y2="275.8" stroke="#7f4cf0" stroke-width="0.85"/>
<line x1="359.0" y1="282.7" x2="379.5" y2="275.8" stroke="#7f4cf0" stroke-width="0.85"/>
<line x1="393.0" y1="270.0" x2="379.5" y2="275.8" stroke="#7f4cf0" stroke-width="0.85"/>
<line x1="394.0" y1="284.4" x2="379.5" y2="275.8" stroke="#7f4cf0" stroke-width="0.85"/>
<line x1="381.0" y1="289.4" x2="379.5" y2="275.8" stroke="#7f4cf0" stroke-width="0.85"/>
<line x1="368.1" y1="295.3" x2="379.5" y2="275.8" stroke="#7f4cf0" stroke-width="0.85"/>
<line x1="349.1" y1="300.2" x2="379.5" y2="275.8" stroke="#7f4cf0" stroke-width="0.85"/>
<line x1="366.5" y1="286.2" x2="368.2" y2="284.9" stroke="#7f4cf0" stroke-width="2.2" stroke-opacity="0.8" stroke-linecap="round"/>
<line x1="365.8" y1="314.6" x2="379.5" y2="275.8" stroke="#7f4cf0" stroke-width="0.85"/>
<line x1="381.0" y1="289.4" x2="387.0" y2="301.0" stroke="#7f4cf0" stroke-width="0.85"/>
<line x1="387.0" y1="301.0" x2="393.0" y2="320.0" stroke="#7f4cf0" stroke-width="0.85"/>
<line x1="389.7" y1="309.5" x2="390.3" y2="311.5" stroke="#7f4cf0" stroke-width="2.2" stroke-opacity="0.8" stroke-linecap="round"/>
<line x1="345.0" y1="279.5" x2="315.2" y2="287.7" stroke="#7f4cf0" stroke-width="0.85"/>
<line x1="331.6" y1="283.2" x2="328.6" y2="284.0" stroke="#7f4cf0" stroke-width="2.2" stroke-opacity="0.8" stroke-linecap="round"/>
<line x1="315.2" y1="287.7" x2="291.3" y2="294.7" stroke="#7f4cf0" stroke-width="0.85"/>
<line x1="304.8" y1="290.8" x2="301.7" y2="291.6" stroke="#7f4cf0" stroke-width="2.2" stroke-opacity="0.8" stroke-linecap="round"/>
<line x1="530.1" y1="153.5" x2="551.7" y2="151.5" stroke="#7f4cf0" stroke-width="0.85"/>
<line x1="529.9" y1="152.5" x2="551.5" y2="150.5" stroke="#7f4cf0" stroke-width="0.85"/>
<line x1="488.0" y1="198.4" x2="519.4" y2="206.0" stroke="#7f4cf0" stroke-width="0.6"/>
<line x1="488.0" y1="198.4" x2="519.4" y2="208.2" stroke="#7f4cf0" stroke-width="0.6"/>
<line x1="505.9" y1="204.0" x2="509.0" y2="205.0" stroke="#7f4cf0" stroke-width="1.6" stroke-opacity="0.8" stroke-linecap="round"/>
<line x1="488.0" y1="198.4" x2="519.4" y2="210.4" stroke="#7f4cf0" stroke-width="0.6"/>
<ellipse cx="496.0" cy="6.0" rx="3.0" ry="3.0" fill="#00ff00" stroke="#333" stroke-width="0.35"/>
<ellipse cx="499.4" cy="36.6" rx="3.0" ry="3.0" fill="#ff00ff" stroke="#333" stroke-width="0.35"/>
<ellipse cx="524.6" cy="49.0" rx="3.0" ry="3.0" fill="#ff00ff" stroke="#333" stroke-width="0.35"/>
<ellipse cx="510.0" cy="59.6" rx="3.2" ry="3.2" fill="#000000" stroke="#333" stroke-width="0.35"/>
<ellipse cx="495.4" cy="61.6" rx="3.2" ry="3.2" fill="#ff00ff" stroke="#333" stroke-width="0.35"/>
<ellipse cx="526.4" cy="70.4" rx="4.5" ry="4.5" fill="#ff00ff" stroke="#333" stroke-width="0.35"/>
<ellipse cx="487.4" cy="75.0" rx="3.4" ry="3.4" fill="#ff00ff" stroke="#333" stroke-width="0.35"/>
<path d="M511.0 85.0L521.50 85.00A10.5 10.5 0 0 1 519.04 91.75Z" fill="#000000" stroke="#333" stroke-width="0.21" stroke-linejoin="round"/>
<path d="M511.0 85.0L519.04 91.75A10.5 10.5 0 0 1 514.59 94.87Z" fill="#00ff00" stroke="#333" stroke-width="0.21" stroke-linejoin="round"/>
<path d="M511.0 85.0L514.59 94.87A10.5 10.5 0 1 1 521.50 85.00Z" fill="#ff00ff" stroke="#333" stroke-width="0.21" stroke-linejoin="round"/>
<ellipse cx="511.0" cy="85.0" rx="10.5" ry="10.5" fill="none" stroke="#333" stroke-width="0.35"/>
<ellipse cx="531.6" cy="101.0" rx="3.0" ry="3.0" fill="#00ff00" stroke="#333" stroke-width="0.35"/>
<path d="M492.4 110.6L499.40 110.60A7.0 7.0 0 0 1 494.21 117.36Z" fill="#000000" stroke="#333" stroke-width="0.21" stroke-linejoin="round"/>
<path d="M492.4 110.6L494.21 117.36A7.0 7.0 0 1 1 499.40 110.60Z" fill="#ff00ff" stroke="#333" stroke-width="0.21" stroke-linejoin="round"/>
<ellipse cx="492.4" cy="110.6" rx="7.0" ry="7.0" fill="none" stroke="#333" stroke-width="0.35"/>
<ellipse cx="507.0" cy="112.0" rx="3.2" ry="3.2" fill="#000000" stroke="#333" stroke-width="0.35"/>
<ellipse cx="520.0" cy="112.4" rx="5.4" ry="5.4" fill="#ff0000" stroke="#333" stroke-width="0.35"/>
<ellipse cx="542.4" cy="113.0" rx="3.2" ry="3.2" fill="#ff00ff" stroke="#333" stroke-width="0.35"/>
<ellipse cx="483.6" cy="125.6" rx="6.0" ry="6.0" fill="#55ffff" stroke="#333" stroke-width="0.35"/>
<ellipse cx="497.4" cy="123.6" rx="3.0" ry="3.0" fill="#ff00ff" stroke="#333" stroke-width="0.35"/>
<ellipse cx="526.4" cy="124.0" rx="3.4" ry="3.4" fill="#ff00ff" stroke="#333" stroke-width="0.35"/>
<ellipse cx="547.4" cy="128.4" rx="3.2" ry="3.2" fill="#000000" stroke="#333" stroke-width="0.35"/>
<path d="M515.0 141.2L525.98 132.71A13.4 14.8 0 0 1 528.40 141.20Z" fill="#55ffff" stroke="#333" stroke-width="0.21" stroke-linejoin="round"/>
<path d="M515.0 141.2L528.40 141.20A13.4 14.8 0 0 1 522.69 153.32Z" fill="#000000" stroke="#333" stroke-width="0.21" stroke-linejoin="round"/>
<path d="M515.0 141.2L522.69 153.32A13.4 14.8 0 1 1 525.98 132.71Z" fill="#ff00ff" stroke="#333" stroke-width="0.21" stroke-linejoin="round"/>
<ellipse cx="515.0" cy="141.2" rx="13.4" ry="14.8" fill="none" stroke="#333" stroke-width="0.35"/>
<ellipse cx="532.4" cy="138.0" rx="5.4" ry="5.4" fill="#55ffff" stroke="#333" stroke-width="0.35"/>
<ellipse cx="530.0" cy="153.0" rx="4.2" ry="4.2" fill="#55ffff" stroke="#333" stroke-width="0.35"/>
<ellipse cx="507.0" cy="160.0" rx="3.2" ry="3.2" fill="#55ffff" stroke="#333" stroke-width="0.35"/>
<ellipse cx="476.4" cy="138.7" rx="3.2" ry="3.2" fill="#ff00ff" stroke="#333" stroke-width="0.35"/>
<ellipse cx="491.6" cy="140.0" rx="3.2" ry="3.2" fill="#ff0000" stroke="#333" stroke-width="0.35"/>
<ellipse cx="489.0" cy="155.4" rx="3.2" ry="3.2" fill="#ff00ff" stroke="#333" stroke-width="0.35"/>
<ellipse cx="551.6" cy="151.0" rx="3.4" ry="3.4" fill="#ff00ff" stroke="#333" stroke-width="0.35"/>
<ellipse cx="553.0" cy="171.0" rx="3.2" ry="3.2" fill="#ff00ff" stroke="#333" stroke-width="0.35"/>
<ellipse cx="496.6" cy="169.6" rx="3.2" ry="3.2" fill="#00ff00" stroke="#333" stroke-width="0.35"/>
<ellipse cx="458.0" cy="181.6" rx="3.2" ry="3.2" fill="#ff00ff" stroke="#333" stroke-width="0.35"/>
<ellipse cx="535.6" cy="181.0" rx="3.2" ry="3.2" fill="#ff00ff" stroke="#333" stroke-width="0.35"/>
<ellipse cx="472.4" cy="191.0" rx="3.2" ry="3.2" fill="#ff00ff" stroke="#333" stroke-width="0.35"/>
<ellipse cx="508.0" cy="191.0" rx="3.2" ry="3.2" fill="#ffff00" stroke="#333" stroke-width="0.35"/>
<ellipse cx="548.0" cy="192.0" rx="3.2" ry="3.2" fill="#ff00ff" stroke="#333" stroke-width="0.35"/>
<ellipse cx="488.0" cy="198.4" rx="3.4" ry="3.4" fill="#00ff00" stroke="#333" stroke-width="0.35"/>
<ellipse cx="462.6" cy="203.6" rx="3.4" ry="3.4" fill="#00ff00" stroke="#333" stroke-width="0.35"/>
<ellipse cx="559.0" cy="203.0" rx="3.3" ry="3.3" fill="#55ffff" stroke="#333" stroke-width="0.35"/>
<path d="M534.4 212.2L516.47 222.04A20.0 22.2 0 0 1 532.31 190.12Z" fill="#ff00ff" stroke="#333" stroke-width="0.21" stroke-linejoin="round"/>
<path d="M534.4 212.2L532.31 190.12A20.0 22.2 0 0 1 538.22 190.41Z" fill="#ffff00" stroke="#333" stroke-width="0.21" stroke-linejoin="round"/>
<path d="M534.4 212.2L538.22 190.41A20.0 22.2 0 0 1 554.40 212.20Z" fill="#55ffff" stroke="#333" stroke-width="0.21" stroke-linejoin="round"/>
<path d="M534.4 212.2L554.40 212.20A20.0 22.2 0 0 1 520.76 228.44Z" fill="#000000" stroke="#333" stroke-width="0.21" stroke-linejoin="round"/>
<path d="M534.4 212.2L520.76 228.44A20.0 22.2 0 0 1 519.54 227.05Z" fill="#ff0000" stroke="#333" stroke-width="0.21" stroke-linejoin="round"/>
<path d="M534.4 212.2L519.54 227.05A20.0 22.2 0 0 1 516.47 222.04Z" fill="#00ff00" stroke="#333" stroke-width="0.21" stroke-linejoin="round"/>
<ellipse cx="534.4" cy="212.2" rx="20.0" ry="22.2" fill="none" stroke="#333" stroke-width="0.35"/>
<ellipse cx="503.6" cy="212.6" rx="3.2" ry="3.2" fill="#ff00ff" stroke="#333" stroke-width="0.35"/>
<ellipse cx="571.0" cy="215.4" rx="3.2" ry="3.2" fill="#ff00ff" stroke="#333" stroke-width="0.35"/>
<ellipse cx="478.8" cy="220.4" rx="3.2" ry="3.2" fill="#00ff00" stroke="#333" stroke-width="0.35"/>
<ellipse cx="509.6" cy="225.8" rx="3.2" ry="3.2" fill="#000000" stroke="#333" stroke-width="0.35"/>
<ellipse cx="449.5" cy="236.0" rx="3.2" ry="3.2" fill="#000000" stroke="#333" stroke-width="0.35"/>
<ellipse cx="612.4" cy="213.6" rx="5.6" ry="5.6" fill="#55ffff" stroke="#333" stroke-width="0.35"/>
<ellipse cx="634.0" cy="217.6" rx="3.2" ry="3.2" fill="#55ffff" stroke="#333" stroke-width="0.35"/>
<ellipse cx="565.6" cy="246.0" rx="3.2" ry="3.2" fill="#ff00ff" stroke="#333" stroke-width="0.35"/>
<ellipse cx="513.0" cy="245.0" rx="3.2" ry="3.2" fill="#ff00ff" stroke="#333" stroke-width="0.35"/>
<ellipse cx="534.4" cy="239.4" rx="3.2" ry="3.2" fill="#ff00ff" stroke="#333" stroke-width="0.35"/>
<ellipse cx="535.6" cy="258.6" rx="3.2" ry="3.2" fill="#ff00ff" stroke="#333" stroke-width="0.35"/>
<ellipse cx="409.6" cy="208.6" rx="5.2" ry="5.2" fill="#55ffff" stroke="#333" stroke-width="0.35"/>
<ellipse cx="431.6" cy="204.0" rx="3.2" ry="3.2" fill="#55ffff" stroke="#333" stroke-width="0.35"/>
<path d="M391.0 211.4L386.60 211.40A4.4 4.4 0 0 1 395.40 211.40Z" fill="#55ffff" stroke="#333" stroke-width="0.21" stroke-linejoin="round"/>
<path d="M391.0 211.4L395.40 211.40A4.4 4.4 0 0 1 386.60 211.40Z" fill="#ff0000" stroke="#333" stroke-width="0.21" stroke-linejoin="round"/>
<ellipse cx="391.0" cy="211.4" rx="4.4" ry="4.4" fill="none" stroke="#333" stroke-width="0.35"/>
<ellipse cx="344.4" cy="224.6" rx="4.6" ry="4.6" fill="#ff0000" stroke="#333" stroke-width="0.35"/>
<ellipse cx="384.0" cy="222.6" rx="3.2" ry="3.2" fill="#ff00ff" stroke="#333" stroke-width="0.35"/>
<ellipse cx="404.0" cy="224.4" rx="3.2" ry="3.2" fill="#55ffff" stroke="#333" stroke-width="0.35"/>
<path d="M365.4 241.4L370.52 240.50A5.2 5.2 0 0 1 361.42 244.74Z" fill="#ff00ff" stroke="#333" stroke-width="0.21" stroke-linejoin="round"/>
<path d="M365.4 241.4L361.42 244.74A5.2 5.2 0 1 1 370.52 240.50Z" fill="#55ffff" stroke="#333" stroke-width="0.21" stroke-linejoin="round"/>
<ellipse cx="365.4" cy="241.4" rx="5.2" ry="5.2" fill="none" stroke="#333" stroke-width="0.35"/>
<path d="M396.0 240.6L391.60 240.60A4.4 4.4 0 0 1 400.40 240.60Z" fill="#55ffff" stroke="#333" stroke-width="0.21" stroke-linejoin="round"/>
<path d="M396.0 240.6L400.40 240.60A4.4 4.4 0 0 1 391.60 240.60Z" fill="#000000" stroke="#333" stroke-width="0.21" stroke-linejoin="round"/>
<ellipse cx="396.0" cy="240.6" rx="4.4" ry="4.4" fill="none" stroke="#333" stroke-width="0.35"/>
<path d="M421.6 234.4L417.40 234.40A4.2 4.2 0 0 1 425.80 234.40Z" fill="#55ffff" stroke="#333" stroke-width="0.21" stroke-linejoin="round"/>
<path d="M421.6 234.4L425.80 234.40A4.2 4.2 0 0 1 417.40 234.40Z" fill="#ff00ff" stroke="#333" stroke-width="0.21" stroke-linejoin="round"/>
<ellipse cx="421.6" cy="234.4" rx="4.2" ry="4.2" fill="none" stroke="#333" stroke-width="0.35"/>
<ellipse cx="378.4" cy="248.4" rx="3.2" ry="3.2" fill="#000000" stroke="#333" stroke-width="0.35"/>
<ellipse cx="404.4" cy="254.4" rx="3.2" ry="3.2" fill="#55ffff" stroke="#333" stroke-width="0.35"/>
<ellipse cx="362.0" cy="258.2" rx="3.2" ry="3.2" fill="#ff00ff" stroke="#333" stroke-width="0.35"/>
<ellipse cx="351.2" cy="263.6" rx="5.6" ry="5.6" fill="#00ff00" stroke="#333" stroke-width="0.35"/>
<ellipse cx="393.0" cy="270.0" rx="3.6" ry="3.6" fill="#00ff00" stroke="#333" stroke-width="0.35"/>
<path d="M379.5 275.8L387.91 267.07A11.5 12.8 0 0 1 391.00 275.80Z" fill="#55ffff" stroke="#333" stroke-width="0.21" stroke-linejoin="round"/>
<path d="M379.5 275.8L391.00 275.80A11.5 12.8 0 0 1 377.50 288.41Z" fill="#00ff00" stroke="#333" stroke-width="0.21" stroke-linejoin="round"/>
<path d="M379.5 275.8L377.50 288.41A11.5 12.8 0 1 1 387.91 267.07Z" fill="#ff00ff" stroke="#333" stroke-width="0.21" stroke-linejoin="round"/>
<ellipse cx="379.5" cy="275.8" rx="11.5" ry="12.8" fill="none" stroke="#333" stroke-width="0.35"/>
<ellipse cx="345.0" cy="279.5" rx="4.4" ry="4.4" fill="#ff00ff" stroke="#333" stroke-width="0.35"/>
<ellipse cx="359.0" cy="282.7" rx="4.4" ry="4.4" fill="#00ff00" stroke="#333" stroke-width="0.35"/>
<ellipse cx="394.0" cy="284.4" rx="3.4" ry="3.4" fill="#ff00ff" stroke="#333" stroke-width="0.35"/>
<ellipse cx="381.0" cy="289.4" rx="3.4" ry="3.4" fill="#00ff00" stroke="#333" stroke-width="0.35"/>
<ellipse cx="368.1" cy="295.3" rx="4.5" ry="4.5" fill="#00ff00" stroke="#333" stroke-width="0.35"/>
<ellipse cx="349.1" cy="300.2" rx="3.3" ry="3.3" fill="#00ff00" stroke="#333" stroke-width="0.35"/>
<ellipse cx="387.0" cy="301.0" rx="3.2" ry="3.2" fill="#ff00ff" stroke="#333" stroke-width="0.35"/>
<ellipse cx="365.8" cy="314.6" rx="3.3" ry="3.3" fill="#00ff00" stroke="#333" stroke-width="0.35"/>
<ellipse cx="393.0" cy="320.0" rx="3.4" ry="3.4" fill="#ff00ff" stroke="#333" stroke-width="0.35"/>
<ellipse cx="315.2" cy="287.7" rx="3.2" ry="3.2" fill="#00ff00" stroke="#333" stroke-width="0.35"/>
<ellipse cx="291.3" cy="294.7" rx="3.4" ry="3.4" fill="#00ff00" stroke="#333" stroke-width="0.35"/>
<ellipse cx="548.0" cy="212.0" rx="3.0" ry="3.0" fill="#ff00ff" stroke="#333" stroke-width="0.35"/>
<ellipse cx="538.2" cy="224.0" rx="3.4" ry="3.4" fill="#ff0000" stroke="#333" stroke-width="0.35"/>
<ellipse cx="523.0" cy="229.5" rx="3.3" ry="3.3" fill="#ffff00" stroke="#333" stroke-width="0.35"/>
<path d="M552.6 231.0L548.30 231.00A4.3 4.3 0 0 1 556.90 231.00Z" fill="#ff00ff" stroke="#333" stroke-width="0.21" stroke-linejoin="round"/>
<path d="M552.6 231.0L556.90 231.00A4.3 4.3 0 0 1 548.30 231.00Z" fill="#000000" stroke="#333" stroke-width="0.21" stroke-linejoin="round"/>
<ellipse cx="552.6" cy="231.0" rx="4.3" ry="4.3" fill="none" stroke="#333" stroke-width="0.35"/>
<text transform="translate(499.6 7.5) scale(0.92 1)" font-size="4.2" font-weight="bold" text-anchor="end" fill="#000">Hap_66</text>
<text transform="translate(503.0 38.1) scale(0.92 1)" font-size="4.2" font-weight="bold" text-anchor="end" fill="#000">Hap_28</text>
<text transform="translate(528.2 50.5) scale(0.92 1)" font-size="4.2" font-weight="bold" text-anchor="end" fill="#000">Hap_43</text>
<text transform="translate(513.6 61.1) scale(0.92 1)" font-size="4.2" font-weight="bold" text-anchor="end" fill="#000">Hap_72</text>
<text transform="translate(499.0 63.1) scale(0.92 1)" font-size="4.2" font-weight="bold" text-anchor="end" fill="#000">Hap_58</text>
<text transform="translate(530.0 71.9) scale(0.92 1)" font-size="4.2" font-weight="bold" text-anchor="end" fill="#000">Hap_36</text>
<text transform="translate(491.0 76.5) scale(0.92 1)" font-size="4.2" font-weight="bold" text-anchor="end" fill="#000">Hap_26</text>
<text transform="translate(511.0 83.0) scale(0.92 1)" font-size="4.2" font-weight="bold" text-anchor="end" fill="#000">Hap_15</text>
<text transform="translate(535.2 102.5) scale(0.92 1)" font-size="4.2" font-weight="bold" text-anchor="end" fill="#000">Hap_67</text>
<text transform="translate(494.0 111.8) scale(0.92 1)" font-size="4.2" font-weight="bold" text-anchor="end" fill="#000">Hap_14</text>
<text transform="translate(510.6 113.5) scale(0.92 1)" font-size="4.2" font-weight="bold" text-anchor="end" fill="#000">Hap_73</text>
<text transform="translate(523.0 113.9) scale(0.92 1)" font-size="4.2" font-weight="bold" text-anchor="end" fill="#000">Hap_71</text>
<text transform="translate(546.0 114.5) scale(0.92 1)" font-size="4.2" font-weight="bold" text-anchor="end" fill="#000">Hap_48</text>
<text transform="translate(486.5 127.1) scale(0.92 1)" font-size="4.2" font-weight="bold" text-anchor="end" fill="#000">Hap_3</text>
<text transform="translate(501.0 125.1) scale(0.92 1)" font-size="4.2" font-weight="bold" text-anchor="end" fill="#000">Hap_27</text>
<text transform="translate(530.0 125.5) scale(0.92 1)" font-size="4.2" font-weight="bold" text-anchor="end" fill="#000">Hap_35</text>
<text transform="translate(551.0 129.9) scale(0.92 1)" font-size="4.2" font-weight="bold" text-anchor="end" fill="#000">Hap_74</text>
<text transform="translate(513.0 138.0) scale(0.92 1)" font-size="4.2" font-weight="bold" text-anchor="end" fill="#000">Hap_8</text>
<text transform="translate(535.5 139.5) scale(0.92 1)" font-size="4.2" font-weight="bold" text-anchor="end" fill="#000">Hap_6</text>
<text transform="translate(533.0 154.5) scale(0.92 1)" font-size="4.2" font-weight="bold" text-anchor="end" fill="#000">Hap_9</text>
<text transform="translate(510.6 161.5) scale(0.92 1)" font-size="4.2" font-weight="bold" text-anchor="end" fill="#000">Hap_7</text>
<text transform="translate(480.0 140.2) scale(0.92 1)" font-size="4.2" font-weight="bold" text-anchor="end" fill="#000">Hap_69</text>
<text transform="translate(495.2 141.5) scale(0.92 1)" font-size="4.2" font-weight="bold" text-anchor="end" fill="#000">Hap_70</text>
<text transform="translate(492.6 156.9) scale(0.92 1)" font-size="4.2" font-weight="bold" text-anchor="end" fill="#000">Hap_60</text>
<text transform="translate(555.2 152.5) scale(0.92 1)" font-size="4.2" font-weight="bold" text-anchor="end" fill="#000">Hap_50</text>
<text transform="translate(556.6 172.5) scale(0.92 1)" font-size="4.2" font-weight="bold" text-anchor="end" fill="#000">Hap_34</text>
<text transform="translate(500.2 171.1) scale(0.92 1)" font-size="4.2" font-weight="bold" text-anchor="end" fill="#000">Hap_63</text>
<text transform="translate(461.6 183.1) scale(0.92 1)" font-size="4.2" font-weight="bold" text-anchor="end" fill="#000">Hap_47</text>
<text transform="translate(539.2 182.5) scale(0.92 1)" font-size="4.2" font-weight="bold" text-anchor="end" fill="#000">Hap_22</text>
<text transform="translate(476.0 192.5) scale(0.92 1)" font-size="4.2" font-weight="bold" text-anchor="end" fill="#000">Hap_62</text>
<text transform="translate(511.6 192.5) scale(0.92 1)" font-size="4.2" font-weight="bold" text-anchor="end" fill="#000">Hap_16</text>
<text transform="translate(551.6 193.5) scale(0.92 1)" font-size="4.2" font-weight="bold" text-anchor="end" fill="#000">Hap_38</text>
<text transform="translate(491.6 199.9) scale(0.92 1)" font-size="4.2" font-weight="bold" text-anchor="end" fill="#000">Hap_64</text>
<text transform="translate(466.2 205.1) scale(0.92 1)" font-size="4.2" font-weight="bold" text-anchor="end" fill="#000">Hap_61</text>
<text transform="translate(562.6 204.5) scale(0.92 1)" font-size="4.2" font-weight="bold" text-anchor="end" fill="#000">Hap_11</text>
<text transform="translate(528.0 206.0) scale(0.92 1)" font-size="4.2" font-weight="bold" text-anchor="end" fill="#000">Hap_5</text>
<text transform="translate(507.2 214.1) scale(0.92 1)" font-size="4.2" font-weight="bold" text-anchor="end" fill="#000">Hap_24</text>
<text transform="translate(574.6 216.9) scale(0.92 1)" font-size="4.2" font-weight="bold" text-anchor="end" fill="#000">Hap_37</text>
<text transform="translate(482.4 221.9) scale(0.92 1)" font-size="4.2" font-weight="bold" text-anchor="end" fill="#000">Hap_65</text>
<text transform="translate(513.2 227.3) scale(0.92 1)" font-size="4.2" font-weight="bold" text-anchor="end" fill="#000">Hap_75</text>
<text transform="translate(453.1 237.5) scale(0.92 1)" font-size="4.2" font-weight="bold" text-anchor="end" fill="#000">Hap_76</text>
<text transform="translate(615.0 215.0) scale(0.92 1)" font-size="4.2" font-weight="bold" text-anchor="end" fill="#000">Hap_13</text>
<text transform="translate(637.5 219.1) scale(0.92 1)" font-size="4.2" font-weight="bold" text-anchor="end" fill="#000">Hap_17</text>
<text transform="translate(569.2 247.5) scale(0.92 1)" font-size="4.2" font-weight="bold" text-anchor="end" fill="#000">Hap_40</text>
<text transform="translate(516.6 246.5) scale(0.92 1)" font-size="4.2" font-weight="bold" text-anchor="end" fill="#000">Hap_33</text>
<text transform="translate(538.0 240.9) scale(0.92 1)" font-size="4.2" font-weight="bold" text-anchor="end" fill="#000">Hap_29</text>
<text transform="translate(539.2 260.1) scale(0.92 1)" font-size="4.2" font-weight="bold" text-anchor="end" fill="#000">Hap_32</text>
<text transform="translate(412.5 210.0) scale(0.92 1)" font-size="4.2" font-weight="bold" text-anchor="end" fill="#000">Hap_12</text>
<text transform="translate(435.2 205.5) scale(0.92 1)" font-size="4.2" font-weight="bold" text-anchor="end" fill="#000">Hap_14</text>
<text transform="translate(394.6 212.9) scale(0.92 1)" font-size="4.2" font-weight="bold" text-anchor="end" fill="#000">Hap_10</text>
<text transform="translate(347.5 226.1) scale(0.92 1)" font-size="4.2" font-weight="bold" text-anchor="end" fill="#000">Hap_68</text>
<text transform="translate(387.6 224.1) scale(0.92 1)" font-size="4.2" font-weight="bold" text-anchor="end" fill="#000">Hap_41</text>
<text transform="translate(407.6 225.9) scale(0.92 1)" font-size="4.2" font-weight="bold" text-anchor="end" fill="#000">Hap_13</text>
<text transform="translate(368.5 242.9) scale(0.92 1)" font-size="4.2" font-weight="bold" text-anchor="end" fill="#000">Hap_4</text>
<text transform="translate(399.6 242.1) scale(0.92 1)" font-size="4.2" font-weight="bold" text-anchor="end" fill="#000">Hap_77</text>
<text transform="translate(425.2 235.9) scale(0.92 1)" font-size="4.2" font-weight="bold" text-anchor="end" fill="#000">Hap_20</text>
<text transform="translate(382.0 249.9) scale(0.92 1)" font-size="4.2" font-weight="bold" text-anchor="end" fill="#000">Hap_78</text>
<text transform="translate(408.0 255.9) scale(0.92 1)" font-size="4.2" font-weight="bold" text-anchor="end" fill="#000">Hap_21</text>
<text transform="translate(365.6 259.7) scale(0.92 1)" font-size="4.2" font-weight="bold" text-anchor="end" fill="#000">Hap_39</text>
<text transform="translate(354.5 265.1) scale(0.92 1)" font-size="4.2" font-weight="bold" text-anchor="end" fill="#000">Hap_57</text>
<text transform="translate(396.6 271.5) scale(0.92 1)" font-size="4.2" font-weight="bold" text-anchor="end" fill="#000">Hap_54</text>
<text transform="translate(378.0 273.0) scale(0.92 1)" font-size="4.2" font-weight="bold" text-anchor="end" fill="#000">Hap_1</text>
<text transform="translate(348.6 281.0) scale(0.92 1)" font-size="4.2" font-weight="bold" text-anchor="end" fill="#000">Hap_31</text>
<text transform="translate(362.6 284.2) scale(0.92 1)" font-size="4.2" font-weight="bold" text-anchor="end" fill="#000">Hap_56</text>
<text transform="translate(397.6 285.9) scale(0.92 1)" font-size="4.2" font-weight="bold" text-anchor="end" fill="#000">Hap_44</text>
<text transform="translate(384.6 290.9) scale(0.92 1)" font-size="4.2" font-weight="bold" text-anchor="end" fill="#000">Hap_55</text>
<text transform="translate(371.7 296.8) scale(0.92 1)" font-size="4.2" font-weight="bold" text-anchor="end" fill="#000">Hap_59</text>
<text transform="translate(352.7 301.7) scale(0.92 1)" font-size="4.2" font-weight="bold" text-anchor="end" fill="#000">Hap_53</text>
<text transform="translate(390.6 302.5) scale(0.92 1)" font-size="4.2" font-weight="bold" text-anchor="end" fill="#000">Hap_46</text>
<text transform="translate(369.4 316.1) scale(0.92 1)" font-size="4.2" font-weight="bold" text-anchor="end" fill="#000">Hap_52</text>
<text transform="translate(396.6 321.5) scale(0.92 1)" font-size="4.2" font-weight="bold" text-anchor="end" fill="#000">Hap_45</text>
<text transform="translate(318.8 289.2) scale(0.92 1)" font-size="4.2" font-weight="bold" text-anchor="end" fill="#000">Hap_51</text>
<text transform="translate(287.0 298.3) scale(0.92 1)" font-size="4.2" font-weight="bold" text-anchor="start" fill="#000">Hap_00</text>
<text transform="translate(551.0 213.5) scale(0.92 1)" font-size="4.2" font-weight="bold" text-anchor="end" fill="#000">Hap_73</text>
<text transform="translate(541.0 225.5) scale(0.92 1)" font-size="4.2" font-weight="bold" text-anchor="end" fill="#000">Hap_2</text>
<text transform="translate(526.6 231.0) scale(0.92 1)" font-size="4.2" font-weight="bold" text-anchor="end" fill="#000">Hap_18</text>
<text transform="translate(556.2 232.5) scale(0.92 1)" font-size="4.2" font-weight="bold" text-anchor="end" fill="#000">Hap_30</text>
<text class="ser" transform="translate(652 39.4) scale(0.96 1)" font-size="40.3">B</text>
<rect x="591.5" y="253.2" width="30" height="81.7" fill="#fff" stroke="#777" stroke-width="0.5"/>
<ellipse cx="606.2" cy="267.4" rx="9.6" ry="9.6" fill="none" stroke="#444" stroke-width="0.4"/>
<ellipse cx="606.2" cy="274.6" rx="3.0" ry="3.0" fill="none" stroke="#444" stroke-width="0.4"/>
<text transform="translate(606.2 268.6) scale(0.9 1)" font-size="2.6" font-weight="bold" text-anchor="middle" fill="#222">10 samples</text>
<text transform="translate(606.2 281.0) scale(0.9 1)" font-size="2.6" font-weight="bold" text-anchor="middle" fill="#222">1 sample</text>
<ellipse cx="597.4" cy="287.8" rx="3.2" ry="3.2" fill="#55ffff" stroke="#333" stroke-width="0.35"/>
<text transform="translate(603.2 289.2) scale(0.95 1)" font-size="4.4" font-weight="bold" text-anchor="start" fill="#000">Central</text>
<ellipse cx="597.4" cy="295.6" rx="3.2" ry="3.2" fill="#ffff00" stroke="#333" stroke-width="0.35"/>
<text transform="translate(603.2 297.0) scale(0.95 1)" font-size="4.4" font-weight="bold" text-anchor="start" fill="#000">East</text>
<ellipse cx="597.4" cy="303.4" rx="3.2" ry="3.2" fill="#ff00ff" stroke="#333" stroke-width="0.35"/>
<text transform="translate(603.2 304.8) scale(0.95 1)" font-size="4.4" font-weight="bold" text-anchor="start" fill="#000">North</text>
<ellipse cx="597.4" cy="311.3" rx="3.2" ry="3.2" fill="#00ff00" stroke="#333" stroke-width="0.35"/>
<text transform="translate(603.2 312.7) scale(0.95 1)" font-size="4.4" font-weight="bold" text-anchor="start" fill="#000">South</text>
<ellipse cx="597.4" cy="319.1" rx="3.2" ry="3.2" fill="#ff0000" stroke="#333" stroke-width="0.35"/>
<text transform="translate(603.2 320.5) scale(0.95 1)" font-size="4.4" font-weight="bold" text-anchor="start" fill="#000">West</text>
<ellipse cx="597.4" cy="326.9" rx="3.2" ry="3.2" fill="#000000" stroke="#333" stroke-width="0.35"/>
<text transform="translate(603.2 328.3) scale(0.95 1)" font-size="4.4" font-weight="bold" text-anchor="start" fill="#000">Others</text>
</g>
<g id="panelC">
<line x1="487.0" y1="350.0" x2="489.7" y2="424.0" stroke="#2828f0" stroke-width="0.85"/>
<line x1="468.6" y1="355.6" x2="489.7" y2="424.0" stroke="#2828f0" stroke-width="0.85"/>
<line x1="453.0" y1="377.0" x2="489.7" y2="424.0" stroke="#2828f0" stroke-width="0.85"/>
<line x1="470.4" y1="383.4" x2="489.7" y2="424.0" stroke="#2828f0" stroke-width="0.85"/>
<line x1="481.5" y1="406.8" x2="482.4" y2="408.7" stroke="#2828f0" stroke-width="2.2" stroke-opacity="0.8" stroke-linecap="round"/>
<line x1="482.0" y1="377.4" x2="489.7" y2="424.0" stroke="#2828f0" stroke-width="0.85"/>
<line x1="498.6" y1="374.0" x2="489.7" y2="424.0" stroke="#2828f0" stroke-width="0.85"/>
<line x1="509.4" y1="380.6" x2="503.0" y2="400.6" stroke="#2828f0" stroke-width="0.85"/>
<line x1="491.4" y1="390.6" x2="489.7" y2="424.0" stroke="#2828f0" stroke-width="0.85"/>
<line x1="503.0" y1="400.6" x2="489.7" y2="424.0" stroke="#2828f0" stroke-width="0.85"/>
<line x1="471.4" y1="401.6" x2="489.7" y2="424.0" stroke="#2828f0" stroke-width="0.85"/>
<line x1="460.0" y1="403.4" x2="489.7" y2="424.0" stroke="#2828f0" stroke-width="0.85"/>
<line x1="459.4" y1="422.0" x2="489.7" y2="424.0" stroke="#2828f0" stroke-width="0.85"/>
<line x1="479.6" y1="423.3" x2="481.7" y2="423.5" stroke="#2828f0" stroke-width="2.2" stroke-opacity="0.8" stroke-linecap="round"/>
<line x1="489.7" y1="424.0" x2="494.0" y2="447.4" stroke="#2828f0" stroke-width="0.85"/>
<line x1="489.7" y1="424.0" x2="542.3" y2="462.7" stroke="#2828f0" stroke-width="0.85"/>
<line x1="512.5" y1="440.8" x2="514.2" y2="442.0" stroke="#2828f0" stroke-width="2.2" stroke-opacity="0.8" stroke-linecap="round"/>
<line x1="472.6" y1="435.6" x2="489.7" y2="424.0" stroke="#2828f0" stroke-width="0.85"/>
<line x1="528.0" y1="414.3" x2="542.3" y2="462.7" stroke="#2828f0" stroke-width="0.85"/>
<line x1="539.0" y1="408.0" x2="542.3" y2="462.7" stroke="#2828f0" stroke-width="0.85"/>
<line x1="550.4" y1="390.5" x2="542.3" y2="462.7" stroke="#2828f0" stroke-width="0.85"/>
<line x1="544.4" y1="443.6" x2="544.2" y2="445.7" stroke="#2828f0" stroke-width="2.2" stroke-opacity="0.8" stroke-linecap="round"/>
<line x1="549.6" y1="417.8" x2="542.3" y2="462.7" stroke="#2828f0" stroke-width="0.85"/>
<line x1="573.0" y1="397.0" x2="542.3" y2="462.7" stroke="#2828f0" stroke-width="0.85"/>
<line x1="563.8" y1="426.2" x2="613.5" y2="400.8" stroke="#2828f0" stroke-width="0.85"/>
<line x1="585.8" y1="415.0" x2="591.5" y2="412.0" stroke="#2828f0" stroke-width="2.2" stroke-opacity="0.8" stroke-linecap="round"/>
<line x1="613.5" y1="400.8" x2="633.1" y2="387.8" stroke="#2828f0" stroke-width="0.85"/>
<line x1="624.4" y1="393.6" x2="626.1" y2="392.4" stroke="#2828f0" stroke-width="2.2" stroke-opacity="0.8" stroke-linecap="round"/>
<line x1="554.0" y1="437.7" x2="542.3" y2="462.7" stroke="#2828f0" stroke-width="0.85"/>
<line x1="568.6" y1="448.6" x2="542.3" y2="462.7" stroke="#2828f0" stroke-width="0.85"/>
<line x1="566.0" y1="476.0" x2="542.3" y2="462.7" stroke="#2828f0" stroke-width="0.85"/>
<line x1="566.0" y1="476.0" x2="583.0" y2="487.0" stroke="#2828f0" stroke-width="0.85"/>
<line x1="573.6" y1="480.9" x2="575.4" y2="482.1" stroke="#2828f0" stroke-width="2.2" stroke-opacity="0.8" stroke-linecap="round"/>
<line x1="558.4" y1="511.4" x2="542.3" y2="462.7" stroke="#2828f0" stroke-width="0.85"/>
<line x1="512.2" y1="487.0" x2="542.3" y2="462.7" stroke="#2828f0" stroke-width="0.85"/>
<line x1="542.3" y1="462.7" x2="509.5" y2="465.0" stroke="#2828f0" stroke-width="0.85"/>
<line x1="523.7" y1="464.0" x2="521.6" y2="464.2" stroke="#2828f0" stroke-width="2.2" stroke-opacity="0.8" stroke-linecap="round"/>
<line x1="494.6" y1="467.0" x2="467.0" y2="469.4" stroke="#2828f0" stroke-width="0.85"/>
<line x1="487.4" y1="467.6" x2="485.3" y2="467.8" stroke="#2828f0" stroke-width="2.2" stroke-opacity="0.8" stroke-linecap="round"/>
<line x1="494.0" y1="447.4" x2="494.6" y2="467.0" stroke="#2828f0" stroke-width="0.85"/>
<line x1="494.3" y1="456.2" x2="494.3" y2="458.2" stroke="#2828f0" stroke-width="2.2" stroke-opacity="0.8" stroke-linecap="round"/>
<line x1="481.0" y1="453.6" x2="494.6" y2="467.0" stroke="#2828f0" stroke-width="0.85"/>
<line x1="494.6" y1="467.0" x2="512.2" y2="487.0" stroke="#2828f0" stroke-width="0.85"/>
<line x1="494.6" y1="467.0" x2="495.6" y2="474.2" stroke="#2828f0" stroke-width="0.85"/>
<line x1="494.6" y1="467.0" x2="509.5" y2="465.0" stroke="#2828f0" stroke-width="0.85"/>
<line x1="495.6" y1="474.2" x2="542.3" y2="462.7" stroke="#2828f0" stroke-width="0.85"/>
<line x1="495.6" y1="474.2" x2="494.4" y2="505.0" stroke="#2828f0" stroke-width="0.85"/>
<line x1="495.6" y1="474.2" x2="472.4" y2="493.6" stroke="#2828f0" stroke-width="0.85"/>
<line x1="484.8" y1="483.2" x2="483.2" y2="484.6" stroke="#2828f0" stroke-width="2.2" stroke-opacity="0.8" stroke-linecap="round"/>
<line x1="472.4" y1="493.6" x2="443.2" y2="513.5" stroke="#2828f0" stroke-width="0.85"/>
<line x1="458.7" y1="503.0" x2="456.9" y2="504.1" stroke="#2828f0" stroke-width="2.2" stroke-opacity="0.8" stroke-linecap="round"/>
<line x1="443.2" y1="513.5" x2="422.4" y2="523.0" stroke="#2828f0" stroke-width="0.85"/>
<line x1="433.5" y1="545.2" x2="495.6" y2="474.2" stroke="#2828f0" stroke-width="0.85"/>
<line x1="459.3" y1="515.7" x2="463.6" y2="510.8" stroke="#2828f0" stroke-width="2.2" stroke-opacity="0.8" stroke-linecap="round"/>
<line x1="371.4" y1="593.6" x2="433.5" y2="545.2" stroke="#2828f0" stroke-width="0.85"/>
<line x1="399.9" y1="571.4" x2="405.0" y2="567.4" stroke="#2828f0" stroke-width="2.2" stroke-opacity="0.8" stroke-linecap="round"/>
<line x1="433.8" y1="465.6" x2="459.4" y2="422.0" stroke="#2828f0" stroke-width="0.85"/>
<line x1="445.2" y1="446.1" x2="448.0" y2="441.5" stroke="#2828f0" stroke-width="2.2" stroke-opacity="0.8" stroke-linecap="round"/>
<line x1="433.8" y1="465.6" x2="462.6" y2="439.6" stroke="#2828f0" stroke-width="0.85"/>
<line x1="446.2" y1="454.4" x2="450.2" y2="450.8" stroke="#2828f0" stroke-width="2.2" stroke-opacity="0.8" stroke-linecap="round"/>
<line x1="433.8" y1="465.6" x2="481.0" y2="453.6" stroke="#2828f0" stroke-width="0.85"/>
<line x1="454.8" y1="460.3" x2="460.0" y2="458.9" stroke="#2828f0" stroke-width="2.2" stroke-opacity="0.8" stroke-linecap="round"/>
<line x1="462.6" y1="439.6" x2="472.6" y2="435.6" stroke="#2828f0" stroke-width="0.85"/>
<line x1="462.6" y1="439.6" x2="467.0" y2="469.4" stroke="#2828f0" stroke-width="0.85"/>
<line x1="465.1" y1="456.4" x2="465.4" y2="458.5" stroke="#2828f0" stroke-width="2.2" stroke-opacity="0.8" stroke-linecap="round"/>
<line x1="472.6" y1="435.6" x2="467.0" y2="469.4" stroke="#2828f0" stroke-width="0.85"/>
<line x1="469.4" y1="454.8" x2="469.1" y2="456.9" stroke="#2828f0" stroke-width="2.2" stroke-opacity="0.8" stroke-linecap="round"/>
<line x1="467.0" y1="469.4" x2="452.4" y2="476.0" stroke="#2828f0" stroke-width="0.85"/>
<line x1="461.2" y1="472.0" x2="458.2" y2="473.4" stroke="#2828f0" stroke-width="2.2" stroke-opacity="0.8" stroke-linecap="round"/>
<line x1="452.4" y1="476.0" x2="417.0" y2="498.6" stroke="#2828f0" stroke-width="0.85"/>
<line x1="437.4" y1="485.6" x2="435.6" y2="486.7" stroke="#2828f0" stroke-width="2.2" stroke-opacity="0.8" stroke-linecap="round"/>
<line x1="433.8" y1="465.6" x2="417.0" y2="498.6" stroke="#2828f0" stroke-width="0.85"/>
<line x1="417.0" y1="498.6" x2="407.0" y2="502.0" stroke="#2828f0" stroke-width="0.85"/>
<line x1="407.0" y1="502.0" x2="396.0" y2="513.0" stroke="#2828f0" stroke-width="0.85"/>
<line x1="417.0" y1="498.6" x2="400.4" y2="523.4" stroke="#2828f0" stroke-width="0.85"/>
<line x1="409.3" y1="510.1" x2="408.1" y2="511.9" stroke="#2828f0" stroke-width="2.2" stroke-opacity="0.8" stroke-linecap="round"/>
<line x1="400.4" y1="523.4" x2="393.0" y2="537.4" stroke="#2828f0" stroke-width="0.85"/>
<line x1="393.0" y1="537.4" x2="378.4" y2="540.0" stroke="#2828f0" stroke-width="0.85"/>
<line x1="371.4" y1="510.4" x2="393.0" y2="537.4" stroke="#2828f0" stroke-width="0.85"/>
<line x1="381.5" y1="523.1" x2="382.9" y2="524.7" stroke="#2828f0" stroke-width="2.2" stroke-opacity="0.8" stroke-linecap="round"/>
<line x1="371.4" y1="510.4" x2="378.4" y2="540.0" stroke="#2828f0" stroke-width="0.85"/>
<line x1="375.4" y1="527.1" x2="375.8" y2="529.2" stroke="#2828f0" stroke-width="2.2" stroke-opacity="0.8" stroke-linecap="round"/>
<line x1="396.0" y1="513.0" x2="400.4" y2="523.4" stroke="#2828f0" stroke-width="0.85"/>
<line x1="422.4" y1="523.0" x2="400.4" y2="523.4" stroke="#2828f0" stroke-width="0.85"/>
<line x1="422.4" y1="523.0" x2="393.0" y2="537.4" stroke="#2828f0" stroke-width="0.85"/>
<line x1="408.6" y1="529.7" x2="406.8" y2="530.7" stroke="#2828f0" stroke-width="2.2" stroke-opacity="0.8" stroke-linecap="round"/>
<line x1="422.4" y1="523.0" x2="433.5" y2="545.2" stroke="#2828f0" stroke-width="0.85"/>
<line x1="427.5" y1="533.2" x2="428.4" y2="535.0" stroke="#2828f0" stroke-width="2.2" stroke-opacity="0.8" stroke-linecap="round"/>
<line x1="409.0" y1="543.6" x2="400.4" y2="523.4" stroke="#2828f0" stroke-width="0.85"/>
<line x1="405.1" y1="534.5" x2="404.3" y2="532.5" stroke="#2828f0" stroke-width="2.2" stroke-opacity="0.8" stroke-linecap="round"/>
<line x1="409.0" y1="543.6" x2="393.0" y2="537.4" stroke="#2828f0" stroke-width="0.85"/>
<line x1="402.0" y1="540.9" x2="400.0" y2="540.1" stroke="#2828f0" stroke-width="2.2" stroke-opacity="0.8" stroke-linecap="round"/>
<line x1="433.5" y1="545.2" x2="400.4" y2="523.4" stroke="#2828f0" stroke-width="0.85"/>
<line x1="417.8" y1="534.9" x2="416.1" y2="533.7" stroke="#2828f0" stroke-width="2.2" stroke-opacity="0.8" stroke-linecap="round"/>
<line x1="378.4" y1="540.0" x2="407.0" y2="502.0" stroke="#2828f0" stroke-width="0.85"/>
<line x1="378.4" y1="540.0" x2="371.4" y2="593.6" stroke="#2828f0" stroke-width="0.85"/>
<line x1="375.0" y1="565.8" x2="374.8" y2="567.8" stroke="#2828f0" stroke-width="2.2" stroke-opacity="0.8" stroke-linecap="round"/>
<line x1="393.0" y1="537.4" x2="371.4" y2="593.6" stroke="#2828f0" stroke-width="0.85"/>
<line x1="380.4" y1="570.1" x2="379.7" y2="572.1" stroke="#2828f0" stroke-width="2.2" stroke-opacity="0.8" stroke-linecap="round"/>
<line x1="354.6" y1="474.4" x2="371.4" y2="510.4" stroke="#2828f0" stroke-width="0.85"/>
<line x1="362.6" y1="491.4" x2="363.4" y2="493.4" stroke="#2828f0" stroke-width="2.2" stroke-opacity="0.8" stroke-linecap="round"/>
<line x1="333.6" y1="512.4" x2="349.0" y2="521.0" stroke="#2828f0" stroke-width="0.85"/>
<line x1="340.4" y1="516.2" x2="342.2" y2="517.2" stroke="#2828f0" stroke-width="2.2" stroke-opacity="0.8" stroke-linecap="round"/>
<line x1="349.0" y1="521.0" x2="378.4" y2="540.0" stroke="#2828f0" stroke-width="0.85"/>
<line x1="365.8" y1="531.8" x2="367.5" y2="533.0" stroke="#2828f0" stroke-width="2.2" stroke-opacity="0.8" stroke-linecap="round"/>
<line x1="371.4" y1="593.6" x2="349.5" y2="573.0" stroke="#2828f0" stroke-width="0.85"/>
<line x1="371.4" y1="593.6" x2="361.5" y2="563.6" stroke="#2828f0" stroke-width="0.85"/>
<line x1="365.8" y1="576.6" x2="365.1" y2="574.6" stroke="#2828f0" stroke-width="2.2" stroke-opacity="0.8" stroke-linecap="round"/>
<line x1="371.4" y1="593.6" x2="387.0" y2="587.0" stroke="#2828f0" stroke-width="0.85"/>
<line x1="371.4" y1="593.6" x2="353.0" y2="594.4" stroke="#2828f0" stroke-width="0.85"/>
<line x1="363.2" y1="594.0" x2="361.2" y2="594.0" stroke="#2828f0" stroke-width="2.2" stroke-opacity="0.8" stroke-linecap="round"/>
<line x1="353.0" y1="594.4" x2="341.0" y2="599.6" stroke="#2828f0" stroke-width="0.85"/>
<line x1="341.0" y1="599.6" x2="313.4" y2="615.0" stroke="#2828f0" stroke-width="0.85"/>
<line x1="327.2" y1="607.3" x2="324.4" y2="608.8" stroke="#2828f0" stroke-width="2.2" stroke-opacity="0.8" stroke-linecap="round"/>
<line x1="313.4" y1="615.0" x2="291.4" y2="629.0" stroke="#2828f0" stroke-width="0.85"/>
<line x1="304.2" y1="620.8" x2="300.6" y2="623.2" stroke="#2828f0" stroke-width="2.2" stroke-opacity="0.8" stroke-linecap="round"/>
<line x1="371.4" y1="593.6" x2="383.0" y2="607.6" stroke="#2828f0" stroke-width="0.85"/>
<line x1="377.7" y1="601.2" x2="379.0" y2="602.8" stroke="#2828f0" stroke-width="2.2" stroke-opacity="0.8" stroke-linecap="round"/>
<line x1="371.4" y1="593.6" x2="358.6" y2="616.6" stroke="#2828f0" stroke-width="0.85"/>
<line x1="358.6" y1="616.6" x2="345.0" y2="629.6" stroke="#2828f0" stroke-width="0.85"/>
<line x1="371.4" y1="593.6" x2="372.4" y2="625.0" stroke="#2828f0" stroke-width="0.85"/>
<line x1="371.9" y1="609.8" x2="372.0" y2="611.9" stroke="#2828f0" stroke-width="2.2" stroke-opacity="0.8" stroke-linecap="round"/>
<line x1="371.4" y1="593.6" x2="386.4" y2="634.4" stroke="#2828f0" stroke-width="0.85"/>
<line x1="377.0" y1="608.9" x2="377.8" y2="610.9" stroke="#2828f0" stroke-width="2.2" stroke-opacity="0.8" stroke-linecap="round"/>
<line x1="371.4" y1="593.6" x2="362.4" y2="649.6" stroke="#2828f0" stroke-width="0.85"/>
<line x1="494.4" y1="505.0" x2="475.4" y2="521.0" stroke="#2828f0" stroke-width="0.85"/>
<line x1="485.7" y1="512.3" x2="484.1" y2="513.7" stroke="#2828f0" stroke-width="2.2" stroke-opacity="0.8" stroke-linecap="round"/>
<line x1="494.4" y1="505.0" x2="487.0" y2="530.0" stroke="#2828f0" stroke-width="0.85"/>
<line x1="494.4" y1="505.0" x2="507.4" y2="517.0" stroke="#2828f0" stroke-width="0.85"/>
<line x1="494.4" y1="505.0" x2="500.4" y2="534.6" stroke="#2828f0" stroke-width="0.85"/>
<line x1="487.0" y1="530.0" x2="483.0" y2="554.5" stroke="#2828f0" stroke-width="0.85"/>
<line x1="500.4" y1="534.6" x2="507.0" y2="565.0" stroke="#2828f0" stroke-width="0.85"/>
<line x1="507.0" y1="565.0" x2="517.6" y2="609.4" stroke="#2828f0" stroke-width="0.85"/>
<line x1="511.9" y1="585.6" x2="512.7" y2="588.8" stroke="#2828f0" stroke-width="2.2" stroke-opacity="0.8" stroke-linecap="round"/>
<line x1="563.1" y1="425.8" x2="541.6" y2="462.3" stroke="#2828f0" stroke-width="0.85"/>
<line x1="564.5" y1="426.6" x2="543.0" y2="463.1" stroke="#2828f0" stroke-width="0.85"/>
<line x1="554.3" y1="444.0" x2="553.2" y2="445.8" stroke="#2828f0" stroke-width="2.2" stroke-opacity="0.8" stroke-linecap="round"/>
<line x1="492.8" y1="447.4" x2="493.4" y2="467.0" stroke="#2828f0" stroke-width="0.85"/>
<ellipse cx="487.0" cy="350.0" rx="2.8" ry="4.8" fill="#1e9df0" stroke="#333" stroke-width="0.35"/>
<ellipse cx="468.6" cy="355.6" rx="2.8" ry="4.8" fill="#555500" stroke="#333" stroke-width="0.35"/>
<ellipse cx="453.0" cy="377.0" rx="2.8" ry="4.8" fill="#ff0000" stroke="#333" stroke-width="0.35"/>
<ellipse cx="470.4" cy="383.4" rx="4.8" ry="8.2" fill="#ffff00" stroke="#333" stroke-width="0.35"/>
<ellipse cx="482.0" cy="377.4" rx="4.8" ry="8.0" fill="#ffff00" stroke="#333" stroke-width="0.35"/>
<path d="M498.6 374.0L493.36 367.92A6.4 10.6 0 0 1 500.79 364.04Z" fill="#555500" stroke="#333" stroke-width="0.21" stroke-linejoin="round"/>
<path d="M498.6 374.0L500.79 364.04A6.4 10.6 0 0 1 504.98 374.92Z" fill="#ff0000" stroke="#333" stroke-width="0.21" stroke-linejoin="round"/>
<path d="M498.6 374.0L504.98 374.92A6.4 10.6 0 1 1 493.36 367.92Z" fill="#e4e4e4" stroke="#333" stroke-width="0.21" stroke-linejoin="round"/>
<ellipse cx="498.6" cy="374.0" rx="6.4" ry="10.6" fill="none" stroke="#333" stroke-width="0.35"/>
<ellipse cx="509.4" cy="380.6" rx="2.8" ry="4.8" fill="#ff0000" stroke="#333" stroke-width="0.35"/>
<ellipse cx="491.4" cy="390.6" rx="2.8" ry="4.8" fill="#ff0000" stroke="#333" stroke-width="0.35"/>
<ellipse cx="503.0" cy="400.6" rx="2.8" ry="4.8" fill="#ff0000" stroke="#333" stroke-width="0.35"/>
<ellipse cx="471.4" cy="401.6" rx="2.8" ry="4.8" fill="#ff0000" stroke="#333" stroke-width="0.35"/>
<path d="M460.0 403.4L457.35 396.28A5.0 8.4 0 0 1 464.99 403.84Z" fill="#ff0000" stroke="#333" stroke-width="0.21" stroke-linejoin="round"/>
<path d="M460.0 403.4L464.99 403.84A5.0 8.4 0 1 1 457.35 396.28Z" fill="#e4e4e4" stroke="#333" stroke-width="0.21" stroke-linejoin="round"/>
<ellipse cx="460.0" cy="403.4" rx="5.0" ry="8.4" fill="none" stroke="#333" stroke-width="0.35"/>
<ellipse cx="459.4" cy="422.0" rx="2.8" ry="4.8" fill="#ff0000" stroke="#333" stroke-width="0.35"/>
<path d="M489.7 424.0L478.74 433.26A12.3 20.4 0 0 1 489.70 403.60Z" fill="#ff0000" stroke="#333" stroke-width="0.21" stroke-linejoin="round"/>
<path d="M489.7 424.0L489.70 403.60A12.3 20.4 0 0 1 501.98 425.07Z" fill="#ffff00" stroke="#333" stroke-width="0.21" stroke-linejoin="round"/>
<path d="M489.7 424.0L501.98 425.07A12.3 20.4 0 0 1 498.40 438.42Z" fill="#e4e4e4" stroke="#333" stroke-width="0.21" stroke-linejoin="round"/>
<path d="M489.7 424.0L498.40 438.42A12.3 20.4 0 0 1 478.74 433.26Z" fill="#555500" stroke="#333" stroke-width="0.21" stroke-linejoin="round"/>
<ellipse cx="489.7" cy="424.0" rx="12.3" ry="20.4" fill="none" stroke="#333" stroke-width="0.35"/>
<ellipse cx="503.0" cy="422.0" rx="2.8" ry="5.0" fill="#ffff00" stroke="#333" stroke-width="0.35"/>
<ellipse cx="472.6" cy="435.6" rx="2.8" ry="4.8" fill="#ffff00" stroke="#333" stroke-width="0.35"/>
<ellipse cx="462.6" cy="439.6" rx="2.8" ry="4.8" fill="#ffff00" stroke="#333" stroke-width="0.35"/>
<ellipse cx="494.0" cy="447.4" rx="2.8" ry="4.8" fill="#555500" stroke="#333" stroke-width="0.35"/>
<path d="M481.0 453.6L476.80 453.60A4.2 7.0 0 0 1 485.20 453.60Z" fill="#1e9df0" stroke="#333" stroke-width="0.21" stroke-linejoin="round"/>
<path d="M481.0 453.6L485.20 453.60A4.2 7.0 0 0 1 476.80 453.60Z" fill="#ffff00" stroke="#333" stroke-width="0.21" stroke-linejoin="round"/>
<ellipse cx="481.0" cy="453.6" rx="4.2" ry="7.0" fill="none" stroke="#333" stroke-width="0.35"/>
<ellipse cx="528.0" cy="414.3" rx="3.0" ry="5.0" fill="#f2f2f2" stroke="#333" stroke-width="0.35"/>
<ellipse cx="539.0" cy="408.0" rx="2.8" ry="4.8" fill="#ff0000" stroke="#333" stroke-width="0.35"/>
<ellipse cx="550.4" cy="390.5" rx="2.8" ry="4.8" fill="#ff0000" stroke="#333" stroke-width="0.35"/>
<ellipse cx="549.6" cy="417.8" rx="2.8" ry="4.8" fill="#ff0000" stroke="#333" stroke-width="0.35"/>
<ellipse cx="563.8" cy="426.2" rx="2.8" ry="4.8" fill="#ffff00" stroke="#333" stroke-width="0.35"/>
<path d="M542.3 462.7L524.41 450.60A19.3 32.3 0 0 1 560.44 451.65Z" fill="#ffff00" stroke="#333" stroke-width="0.21" stroke-linejoin="round"/>
<path d="M542.3 462.7L560.44 451.65A19.3 32.3 0 0 1 561.60 462.70Z" fill="#1e9df0" stroke="#333" stroke-width="0.21" stroke-linejoin="round"/>
<path d="M542.3 462.7L561.60 462.70A19.3 32.3 0 0 1 559.79 476.35Z" fill="#e4e4e4" stroke="#333" stroke-width="0.21" stroke-linejoin="round"/>
<path d="M542.3 462.7L559.79 476.35A19.3 32.3 0 0 1 549.84 492.43Z" fill="#555500" stroke="#333" stroke-width="0.21" stroke-linejoin="round"/>
<path d="M542.3 462.7L549.84 492.43A19.3 32.3 0 0 1 524.41 450.60Z" fill="#ff0000" stroke="#333" stroke-width="0.21" stroke-linejoin="round"/>
<ellipse cx="542.3" cy="462.7" rx="19.3" ry="32.3" fill="none" stroke="#333" stroke-width="0.35"/>
<ellipse cx="554.0" cy="437.7" rx="3.0" ry="5.0" fill="#1e9df0" stroke="#333" stroke-width="0.35"/>
<ellipse cx="555.5" cy="458.7" rx="2.6" ry="4.6" fill="#e4e4e4" stroke="#333" stroke-width="0.35"/>
<ellipse cx="568.6" cy="448.6" rx="2.8" ry="4.8" fill="#ff0000" stroke="#333" stroke-width="0.35"/>
<ellipse cx="566.0" cy="476.0" rx="4.0" ry="6.8" fill="#1e9df0" stroke="#333" stroke-width="0.35"/>
<ellipse cx="550.4" cy="478.0" rx="2.8" ry="4.8" fill="#ff0000" stroke="#333" stroke-width="0.35"/>
<ellipse cx="531.0" cy="485.6" rx="2.8" ry="4.8" fill="#ff0000" stroke="#333" stroke-width="0.35"/>
<ellipse cx="542.4" cy="489.6" rx="2.8" ry="4.8" fill="#ff0000" stroke="#333" stroke-width="0.35"/>
<ellipse cx="512.2" cy="487.0" rx="2.8" ry="4.8" fill="#1e9df0" stroke="#333" stroke-width="0.35"/>
<ellipse cx="583.0" cy="487.0" rx="2.8" ry="4.8" fill="#555500" stroke="#333" stroke-width="0.35"/>
<ellipse cx="558.4" cy="511.4" rx="2.8" ry="4.8" fill="#1e9df0" stroke="#333" stroke-width="0.35"/>
<path d="M613.5 400.8L611.86 393.00A4.8 8.3 0 0 1 618.30 400.80Z" fill="#00a516" stroke="#333" stroke-width="0.21" stroke-linejoin="round"/>
<path d="M613.5 400.8L618.30 400.80A4.8 8.3 0 1 1 611.86 393.00Z" fill="#ffff00" stroke="#333" stroke-width="0.21" stroke-linejoin="round"/>
<ellipse cx="613.5" cy="400.8" rx="4.8" ry="8.3" fill="none" stroke="#333" stroke-width="0.35"/>
<ellipse cx="633.1" cy="387.8" rx="2.8" ry="4.8" fill="#ffff00" stroke="#333" stroke-width="0.35"/>
<ellipse cx="573.0" cy="397.0" rx="2.8" ry="4.8" fill="#ff0000" stroke="#333" stroke-width="0.35"/>
<ellipse cx="433.8" cy="465.6" rx="2.8" ry="4.8" fill="#ffff00" stroke="#333" stroke-width="0.35"/>
<ellipse cx="467.0" cy="469.4" rx="2.8" ry="4.8" fill="#1e9df0" stroke="#333" stroke-width="0.35"/>
<ellipse cx="452.4" cy="476.0" rx="2.8" ry="4.8" fill="#ff0000" stroke="#333" stroke-width="0.35"/>
<ellipse cx="509.5" cy="465.0" rx="2.8" ry="4.8" fill="#555500" stroke="#333" stroke-width="0.35"/>
<ellipse cx="495.6" cy="474.2" rx="2.8" ry="4.8" fill="#555500" stroke="#333" stroke-width="0.35"/>
<path d="M494.4 505.0L501.91 494.84A9.8 15.8 0 0 1 504.20 505.00Z" fill="#ffff00" stroke="#333" stroke-width="0.21" stroke-linejoin="round"/>
<path d="M494.4 505.0L504.20 505.00A9.8 15.8 0 0 1 501.91 515.16Z" fill="#555500" stroke="#333" stroke-width="0.21" stroke-linejoin="round"/>
<path d="M494.4 505.0L501.91 515.16A9.8 15.8 0 1 1 501.91 494.84Z" fill="#ff0000" stroke="#333" stroke-width="0.21" stroke-linejoin="round"/>
<ellipse cx="494.4" cy="505.0" rx="9.8" ry="15.8" fill="none" stroke="#333" stroke-width="0.35"/>
<ellipse cx="472.4" cy="493.6" rx="2.8" ry="4.8" fill="#555500" stroke="#333" stroke-width="0.35"/>
<ellipse cx="443.2" cy="513.5" rx="2.8" ry="4.8" fill="#ffff00" stroke="#333" stroke-width="0.35"/>
<ellipse cx="475.4" cy="521.0" rx="2.8" ry="4.8" fill="#ff0000" stroke="#333" stroke-width="0.35"/>
<ellipse cx="487.0" cy="530.0" rx="2.8" ry="4.8" fill="#ff0000" stroke="#333" stroke-width="0.35"/>
<ellipse cx="507.4" cy="517.0" rx="3.0" ry="5.0" fill="#e4e4e4" stroke="#333" stroke-width="0.35"/>
<path d="M500.4 534.6L496.40 534.60A4.0 6.8 0 0 1 504.40 534.60Z" fill="#ff0000" stroke="#333" stroke-width="0.21" stroke-linejoin="round"/>
<path d="M500.4 534.6L504.40 534.60A4.0 6.8 0 0 1 496.40 534.60Z" fill="#e4e4e4" stroke="#333" stroke-width="0.21" stroke-linejoin="round"/>
<ellipse cx="500.4" cy="534.6" rx="4.0" ry="6.8" fill="none" stroke="#333" stroke-width="0.35"/>
<ellipse cx="483.0" cy="554.5" rx="2.8" ry="4.8" fill="#ff0000" stroke="#333" stroke-width="0.35"/>
<ellipse cx="507.0" cy="565.0" rx="2.8" ry="4.8" fill="#ff0000" stroke="#333" stroke-width="0.35"/>
<ellipse cx="517.6" cy="609.4" rx="2.8" ry="4.8" fill="#555500" stroke="#333" stroke-width="0.35"/>
<path d="M354.6 474.4L350.80 474.40A3.8 6.6 0 0 1 358.40 474.40Z" fill="#ff0000" stroke="#333" stroke-width="0.21" stroke-linejoin="round"/>
<path d="M354.6 474.4L358.40 474.40A3.8 6.6 0 0 1 350.80 474.40Z" fill="#e4e4e4" stroke="#333" stroke-width="0.21" stroke-linejoin="round"/>
<ellipse cx="354.6" cy="474.4" rx="3.8" ry="6.6" fill="none" stroke="#333" stroke-width="0.35"/>
<ellipse cx="333.6" cy="512.4" rx="2.8" ry="4.8" fill="#ff0000" stroke="#333" stroke-width="0.35"/>
<ellipse cx="349.0" cy="521.0" rx="2.8" ry="4.8" fill="#ff0000" stroke="#333" stroke-width="0.35"/>
<path d="M371.4 510.4L371.40 518.60A4.8 8.2 0 0 1 371.40 502.20Z" fill="#ffff00" stroke="#333" stroke-width="0.21" stroke-linejoin="round"/>
<path d="M371.4 510.4L371.40 502.20A4.8 8.2 0 0 1 376.20 510.40Z" fill="#ffaaff" stroke="#333" stroke-width="0.21" stroke-linejoin="round"/>
<path d="M371.4 510.4L376.20 510.40A4.8 8.2 0 0 1 371.40 518.60Z" fill="#ff0000" stroke="#333" stroke-width="0.21" stroke-linejoin="round"/>
<ellipse cx="371.4" cy="510.4" rx="4.8" ry="8.2" fill="none" stroke="#333" stroke-width="0.35"/>
<path d="M396.0 513.0L391.80 513.00A4.2 7.0 0 0 1 400.20 513.00Z" fill="#ffff00" stroke="#333" stroke-width="0.21" stroke-linejoin="round"/>
<path d="M396.0 513.0L400.20 513.00A4.2 7.0 0 0 1 391.80 513.00Z" fill="#e4e4e4" stroke="#333" stroke-width="0.21" stroke-linejoin="round"/>
<ellipse cx="396.0" cy="513.0" rx="4.2" ry="7.0" fill="none" stroke="#333" stroke-width="0.35"/>
<ellipse cx="407.0" cy="502.0" rx="2.8" ry="4.8" fill="#ffff00" stroke="#333" stroke-width="0.35"/>
<ellipse cx="417.0" cy="498.6" rx="2.8" ry="4.8" fill="#ffff00" stroke="#333" stroke-width="0.35"/>
<path d="M422.4 523.0L419.31 516.72A4.8 8.2 0 0 1 427.13 524.42Z" fill="#aa00ff" stroke="#333" stroke-width="0.21" stroke-linejoin="round"/>
<path d="M422.4 523.0L427.13 524.42A4.8 8.2 0 1 1 419.31 516.72Z" fill="#ffff00" stroke="#333" stroke-width="0.21" stroke-linejoin="round"/>
<ellipse cx="422.4" cy="523.0" rx="4.8" ry="8.2" fill="none" stroke="#333" stroke-width="0.35"/>
<ellipse cx="400.4" cy="523.4" rx="3.0" ry="5.0" fill="#ffff00" stroke="#333" stroke-width="0.35"/>
<ellipse cx="378.4" cy="540.0" rx="6.4" ry="10.8" fill="#ffff00" stroke="#333" stroke-width="0.35"/>
<ellipse cx="393.0" cy="537.4" rx="2.8" ry="4.8" fill="#ffff00" stroke="#333" stroke-width="0.35"/>
<ellipse cx="409.0" cy="543.6" rx="4.2" ry="7.0" fill="#ffff00" stroke="#333" stroke-width="0.35"/>
<ellipse cx="433.5" cy="545.2" rx="2.8" ry="4.8" fill="#1e9df0" stroke="#333" stroke-width="0.35"/>
<ellipse cx="361.5" cy="563.6" rx="2.8" ry="4.8" fill="#ffff00" stroke="#333" stroke-width="0.35"/>
<ellipse cx="349.5" cy="573.0" rx="2.8" ry="4.8" fill="#555500" stroke="#333" stroke-width="0.35"/>
<path d="M371.4 593.6L372.88 607.88A8.5 14.5 0 0 1 367.15 581.04Z" fill="#ff0000" stroke="#333" stroke-width="0.21" stroke-linejoin="round"/>
<path d="M371.4 593.6L367.15 581.04A8.5 14.5 0 0 1 379.90 593.60Z" fill="#ffff00" stroke="#333" stroke-width="0.21" stroke-linejoin="round"/>
<path d="M371.4 593.6L379.90 593.60A8.5 14.5 0 0 1 377.91 602.92Z" fill="#e4e4e4" stroke="#333" stroke-width="0.21" stroke-linejoin="round"/>
<path d="M371.4 593.6L377.91 602.92A8.5 14.5 0 0 1 372.88 607.88Z" fill="#555500" stroke="#333" stroke-width="0.21" stroke-linejoin="round"/>
<ellipse cx="371.4" cy="593.6" rx="8.5" ry="14.5" fill="none" stroke="#333" stroke-width="0.35"/>
<ellipse cx="387.0" cy="587.0" rx="4.0" ry="7.0" fill="#ffff00" stroke="#333" stroke-width="0.35"/>
<ellipse cx="353.0" cy="594.4" rx="2.8" ry="4.8" fill="#ff0000" stroke="#333" stroke-width="0.35"/>
<ellipse cx="341.0" cy="599.6" rx="4.2" ry="7.0" fill="#ff0000" stroke="#333" stroke-width="0.35"/>
<ellipse cx="313.4" cy="615.0" rx="2.8" ry="4.8" fill="#000000" stroke="#333" stroke-width="0.35"/>
<ellipse cx="291.4" cy="629.0" rx="2.8" ry="4.8" fill="#000000" stroke="#333" stroke-width="0.35"/>
<ellipse cx="383.0" cy="607.6" rx="2.8" ry="4.8" fill="#ff0000" stroke="#333" stroke-width="0.35"/>
<ellipse cx="358.6" cy="616.6" rx="4.0" ry="7.0" fill="#ffff00" stroke="#333" stroke-width="0.35"/>
<ellipse cx="372.4" cy="625.0" rx="5.0" ry="8.4" fill="#ffff00" stroke="#333" stroke-width="0.35"/>
<ellipse cx="345.0" cy="629.6" rx="2.8" ry="4.8" fill="#ffff00" stroke="#333" stroke-width="0.35"/>
<ellipse cx="386.4" cy="634.4" rx="2.8" ry="4.8" fill="#ff0000" stroke="#333" stroke-width="0.35"/>
<ellipse cx="362.4" cy="649.6" rx="2.8" ry="4.8" fill="#ff0000" stroke="#333" stroke-width="0.35"/>
<text transform="translate(489.3 351.8) scale(0.68 1)" font-size="5" font-weight="normal" text-anchor="end" fill="#000" stroke="#000" stroke-width="0.1">Hap_7</text>
<text transform="translate(470.9 357.4) scale(0.68 1)" font-size="5" font-weight="normal" text-anchor="end" fill="#000" stroke="#000" stroke-width="0.1">Hap_57</text>
<text transform="translate(455.3 378.8) scale(0.68 1)" font-size="5" font-weight="normal" text-anchor="end" fill="#000" stroke="#000" stroke-width="0.1">Hap_44</text>
<text transform="translate(472.3 385.0) scale(0.68 1)" font-size="5" font-weight="normal" text-anchor="end" fill="#000" stroke="#000" stroke-width="0.1">Hap_16</text>
<text transform="translate(487.0 379.0) scale(0.68 1)" font-size="5" font-weight="normal" text-anchor="end" fill="#000" stroke="#000" stroke-width="0.1">Hap_17</text>
<text transform="translate(504.0 378.0) scale(0.68 1)" font-size="5" font-weight="normal" text-anchor="end" fill="#000" stroke="#000" stroke-width="0.1">Hap_58</text>
<text transform="translate(511.7 382.4) scale(0.68 1)" font-size="5" font-weight="normal" text-anchor="end" fill="#000" stroke="#000" stroke-width="0.1">Hap_40</text>
<text transform="translate(493.7 392.4) scale(0.68 1)" font-size="5" font-weight="normal" text-anchor="end" fill="#000" stroke="#000" stroke-width="0.1">Hap_47</text>
<text transform="translate(505.3 402.4) scale(0.68 1)" font-size="5" font-weight="normal" text-anchor="end" fill="#000" stroke="#000" stroke-width="0.1">Hap_46</text>
<text transform="translate(473.7 403.4) scale(0.68 1)" font-size="5" font-weight="normal" text-anchor="end" fill="#000" stroke="#000" stroke-width="0.1">Hap_42</text>
<text transform="translate(462.0 408.5) scale(0.68 1)" font-size="5" font-weight="normal" text-anchor="end" fill="#000" stroke="#000" stroke-width="0.1">Hap_53</text>
<text transform="translate(461.7 423.8) scale(0.68 1)" font-size="5" font-weight="normal" text-anchor="end" fill="#000" stroke="#000" stroke-width="0.1">Hap_56</text>
<text transform="translate(495.0 417.6) scale(0.68 1)" font-size="5" font-weight="normal" text-anchor="end" fill="#000" stroke="#000" stroke-width="0.1">Hap_19</text>
<text transform="translate(505.3 423.8) scale(0.68 1)" font-size="5" font-weight="normal" text-anchor="end" fill="#000" stroke="#000" stroke-width="0.1">Hap_29</text>
<text transform="translate(474.9 437.4) scale(0.68 1)" font-size="5" font-weight="normal" text-anchor="end" fill="#000" stroke="#000" stroke-width="0.1">Hap_27</text>
<text transform="translate(464.9 441.4) scale(0.68 1)" font-size="5" font-weight="normal" text-anchor="end" fill="#000" stroke="#000" stroke-width="0.1">Hap_38</text>
<text transform="translate(496.3 449.2) scale(0.68 1)" font-size="5" font-weight="normal" text-anchor="end" fill="#000" stroke="#000" stroke-width="0.1">Hap_18</text>
<text transform="translate(482.0 455.4) scale(0.68 1)" font-size="5" font-weight="normal" text-anchor="end" fill="#000" stroke="#000" stroke-width="0.1">Hap_5</text>
<text transform="translate(530.3 416.1) scale(0.68 1)" font-size="5" font-weight="normal" text-anchor="end" fill="#000" stroke="#000" stroke-width="0.1">Hap_21</text>
<text transform="translate(541.3 409.8) scale(0.68 1)" font-size="5" font-weight="normal" text-anchor="end" fill="#000" stroke="#000" stroke-width="0.1">Hap_52</text>
<text transform="translate(552.7 392.3) scale(0.68 1)" font-size="5" font-weight="normal" text-anchor="end" fill="#000" stroke="#000" stroke-width="0.1">Hap_59</text>
<text transform="translate(551.9 419.6) scale(0.68 1)" font-size="5" font-weight="normal" text-anchor="end" fill="#000" stroke="#000" stroke-width="0.1">Hap_49</text>
<text transform="translate(566.1 428.0) scale(0.68 1)" font-size="5" font-weight="normal" text-anchor="end" fill="#000" stroke="#000" stroke-width="0.1">Hap_23</text>
<text transform="translate(543.0 453.0) scale(0.68 1)" font-size="5" font-weight="normal" text-anchor="end" fill="#000" stroke="#000" stroke-width="0.1">Hap_10</text>
<text transform="translate(556.3 439.5) scale(0.68 1)" font-size="5" font-weight="normal" text-anchor="end" fill="#000" stroke="#000" stroke-width="0.1">Hap_11</text>
<text transform="translate(557.8 460.5) scale(0.68 1)" font-size="5" font-weight="normal" text-anchor="end" fill="#000" stroke="#000" stroke-width="0.1">Hap_28</text>
<text transform="translate(570.9 450.4) scale(0.68 1)" font-size="5" font-weight="normal" text-anchor="end" fill="#000" stroke="#000" stroke-width="0.1">Hap_50</text>
<text transform="translate(568.0 477.8) scale(0.68 1)" font-size="5" font-weight="normal" text-anchor="end" fill="#000" stroke="#000" stroke-width="0.1">Hap_8</text>
<text transform="translate(553.0 479.8) scale(0.68 1)" font-size="5" font-weight="normal" text-anchor="end" fill="#000" stroke="#000" stroke-width="0.1">Hap_54</text>
<text transform="translate(533.5 487.4) scale(0.68 1)" font-size="5" font-weight="normal" text-anchor="end" fill="#000" stroke="#000" stroke-width="0.1">Hap_51</text>
<text transform="translate(545.0 491.4) scale(0.68 1)" font-size="5" font-weight="normal" text-anchor="end" fill="#000" stroke="#000" stroke-width="0.1">Hap_60</text>
<text transform="translate(514.5 488.8) scale(0.68 1)" font-size="5" font-weight="normal" text-anchor="end" fill="#000" stroke="#000" stroke-width="0.1">Hap_3</text>
<text transform="translate(585.3 488.8) scale(0.68 1)" font-size="5" font-weight="normal" text-anchor="end" fill="#000" stroke="#000" stroke-width="0.1">Hap_70</text>
<text transform="translate(560.0 513.2) scale(0.68 1)" font-size="5" font-weight="normal" text-anchor="end" fill="#000" stroke="#000" stroke-width="0.1">Hap_4</text>
<text transform="translate(615.7 399.6) scale(0.68 1)" font-size="5" font-weight="normal" text-anchor="end" fill="#000" stroke="#000" stroke-width="0.1">Hap_1</text>
<text transform="translate(635.4 389.6) scale(0.68 1)" font-size="5" font-weight="normal" text-anchor="end" fill="#000" stroke="#000" stroke-width="0.1">Hap_24</text>
<text transform="translate(575.3 398.8) scale(0.68 1)" font-size="5" font-weight="normal" text-anchor="end" fill="#000" stroke="#000" stroke-width="0.1">Hap_45</text>
<text transform="translate(436.1 467.4) scale(0.68 1)" font-size="5" font-weight="normal" text-anchor="end" fill="#000" stroke="#000" stroke-width="0.1">Hap_26</text>
<text transform="translate(469.3 471.2) scale(0.68 1)" font-size="5" font-weight="normal" text-anchor="end" fill="#000" stroke="#000" stroke-width="0.1">Hap_6</text>
<text transform="translate(454.7 477.8) scale(0.68 1)" font-size="5" font-weight="normal" text-anchor="end" fill="#000" stroke="#000" stroke-width="0.1">Hap_55</text>
<text transform="translate(511.8 466.8) scale(0.68 1)" font-size="5" font-weight="normal" text-anchor="end" fill="#000" stroke="#000" stroke-width="0.1">Hap_72</text>
<text transform="translate(497.9 476.0) scale(0.68 1)" font-size="5" font-weight="normal" text-anchor="end" fill="#000" stroke="#000" stroke-width="0.1">Hap_75</text>
<text transform="translate(499.0 499.0) scale(0.68 1)" font-size="5" font-weight="normal" text-anchor="end" fill="#000" stroke="#000" stroke-width="0.1">Hap_34</text>
<text transform="translate(474.7 495.4) scale(0.68 1)" font-size="5" font-weight="normal" text-anchor="end" fill="#000" stroke="#000" stroke-width="0.1">Hap_36</text>
<text transform="translate(445.5 515.3) scale(0.68 1)" font-size="5" font-weight="normal" text-anchor="end" fill="#000" stroke="#000" stroke-width="0.1">Hap_22</text>
<text transform="translate(477.7 522.8) scale(0.68 1)" font-size="5" font-weight="normal" text-anchor="end" fill="#000" stroke="#000" stroke-width="0.1">Hap_64</text>
<text transform="translate(489.3 531.8) scale(0.68 1)" font-size="5" font-weight="normal" text-anchor="end" fill="#000" stroke="#000" stroke-width="0.1">Hap_32</text>
<text transform="translate(509.7 518.8) scale(0.68 1)" font-size="5" font-weight="normal" text-anchor="end" fill="#000" stroke="#000" stroke-width="0.1">Hap_79</text>
<text transform="translate(503.0 536.4) scale(0.68 1)" font-size="5" font-weight="normal" text-anchor="end" fill="#000" stroke="#000" stroke-width="0.1">Hap_61</text>
<text transform="translate(485.3 556.3) scale(0.68 1)" font-size="5" font-weight="normal" text-anchor="end" fill="#000" stroke="#000" stroke-width="0.1">Hap_63</text>
<text transform="translate(509.3 566.8) scale(0.68 1)" font-size="5" font-weight="normal" text-anchor="end" fill="#000" stroke="#000" stroke-width="0.1">Hap_47</text>
<text transform="translate(519.9 611.2) scale(0.68 1)" font-size="5" font-weight="normal" text-anchor="end" fill="#000" stroke="#000" stroke-width="0.1">Hap_73</text>
<text transform="translate(357.0 480.0) scale(0.68 1)" font-size="5" font-weight="normal" text-anchor="end" fill="#000" stroke="#000" stroke-width="0.1">Hap_48</text>
<text transform="translate(335.9 514.2) scale(0.68 1)" font-size="5" font-weight="normal" text-anchor="end" fill="#000" stroke="#000" stroke-width="0.1">Hap_65</text>
<text transform="translate(351.3 522.8) scale(0.68 1)" font-size="5" font-weight="normal" text-anchor="end" fill="#000" stroke="#000" stroke-width="0.1">Hap_62</text>
<text transform="translate(372.5 512.2) scale(0.68 1)" font-size="5" font-weight="normal" text-anchor="end" fill="#000" stroke="#000" stroke-width="0.1">Hap_2</text>
<text transform="translate(399.0 514.8) scale(0.68 1)" font-size="5" font-weight="normal" text-anchor="end" fill="#000" stroke="#000" stroke-width="0.1">Hap_15</text>
<text transform="translate(409.3 503.8) scale(0.68 1)" font-size="5" font-weight="normal" text-anchor="end" fill="#000" stroke="#000" stroke-width="0.1">Hap_21</text>
<text transform="translate(419.3 500.4) scale(0.68 1)" font-size="5" font-weight="normal" text-anchor="end" fill="#000" stroke="#000" stroke-width="0.1">Hap_28</text>
<text transform="translate(424.5 524.8) scale(0.68 1)" font-size="5" font-weight="normal" text-anchor="end" fill="#000" stroke="#000" stroke-width="0.1">Hap_13</text>
<text transform="translate(403.0 525.2) scale(0.68 1)" font-size="5" font-weight="normal" text-anchor="end" fill="#000" stroke="#000" stroke-width="0.1">Hap_20</text>
<text transform="translate(385.0 545.0) scale(0.68 1)" font-size="5" font-weight="normal" text-anchor="end" fill="#000" stroke="#000" stroke-width="0.1">Hap_14</text>
<text transform="translate(395.3 539.2) scale(0.68 1)" font-size="5" font-weight="normal" text-anchor="end" fill="#000" stroke="#000" stroke-width="0.1">Hap_26</text>
<text transform="translate(411.5 545.4) scale(0.68 1)" font-size="5" font-weight="normal" text-anchor="end" fill="#000" stroke="#000" stroke-width="0.1">Hap_25</text>
<text transform="translate(435.8 547.0) scale(0.68 1)" font-size="5" font-weight="normal" text-anchor="end" fill="#000" stroke="#000" stroke-width="0.1">Hap_9</text>
<text transform="translate(363.8 565.4) scale(0.68 1)" font-size="5" font-weight="normal" text-anchor="end" fill="#000" stroke="#000" stroke-width="0.1">Hap_36</text>
<text transform="translate(351.8 574.8) scale(0.68 1)" font-size="5" font-weight="normal" text-anchor="end" fill="#000" stroke="#000" stroke-width="0.1">Hap_59</text>
<text transform="translate(371.0 592.0) scale(0.68 1)" font-size="5" font-weight="normal" text-anchor="end" fill="#000" stroke="#000" stroke-width="0.1">Hap_12</text>
<text transform="translate(390.5 588.8) scale(0.68 1)" font-size="5" font-weight="normal" text-anchor="end" fill="#000" stroke="#000" stroke-width="0.1">Hap_30</text>
<text transform="translate(355.3 596.2) scale(0.68 1)" font-size="5" font-weight="normal" text-anchor="end" fill="#000" stroke="#000" stroke-width="0.1">Hap_38</text>
<text transform="translate(343.5 601.4) scale(0.68 1)" font-size="5" font-weight="normal" text-anchor="end" fill="#000" stroke="#000" stroke-width="0.1">Hap_37</text>
<text transform="translate(312.8 608.6) scale(0.68 1)" font-size="5" font-weight="normal" text-anchor="middle" fill="#000" stroke="#000" stroke-width="0.1">Hap_58</text>
<text transform="translate(288.0 638.2) scale(0.68 1)" font-size="5" font-weight="normal" text-anchor="start" fill="#000" stroke="#000" stroke-width="0.1">Hap_57</text>
<text transform="translate(385.3 609.4) scale(0.68 1)" font-size="5" font-weight="normal" text-anchor="end" fill="#000" stroke="#000" stroke-width="0.1">Hap_39</text>
<text transform="translate(360.5 618.4) scale(0.68 1)" font-size="5" font-weight="normal" text-anchor="end" fill="#000" stroke="#000" stroke-width="0.1">Hap_32</text>
<text transform="translate(377.0 628.4) scale(0.68 1)" font-size="5" font-weight="normal" text-anchor="end" fill="#000" stroke="#000" stroke-width="0.1">Hap_31</text>
<text transform="translate(347.3 631.4) scale(0.68 1)" font-size="5" font-weight="normal" text-anchor="end" fill="#000" stroke="#000" stroke-width="0.1">Hap_33</text>
<text transform="translate(388.7 636.2) scale(0.68 1)" font-size="5" font-weight="normal" text-anchor="end" fill="#000" stroke="#000" stroke-width="0.1">Hap_43</text>
<text transform="translate(364.7 651.4) scale(0.68 1)" font-size="5" font-weight="normal" text-anchor="end" fill="#000" stroke="#000" stroke-width="0.1">Hap_41</text>
<text class="ser" transform="translate(636.9 383.3) scale(0.97 1)" font-size="42.6">C</text>
<rect x="613.4" y="521.2" width="31.3" height="148.3" fill="#fff" stroke="#666" stroke-width="0.5"/>
<ellipse cx="628.9" cy="541.0" rx="9.3" ry="14.9" fill="none" stroke="#444" stroke-width="0.4"/>
<ellipse cx="628.9" cy="551.6" rx="2.7" ry="4.4" fill="none" stroke="#444" stroke-width="0.4"/>
<text transform="translate(628.9 542.0) scale(0.6 1)" font-size="2.2" font-weight="normal" text-anchor="middle" fill="#999">10 samples</text>
<text transform="translate(628.9 558.8) scale(0.6 1)" font-size="2.2" font-weight="normal" text-anchor="middle" fill="#999">1 sample</text>
<ellipse cx="619.1" cy="568.9" rx="3.0" ry="4.7" fill="#00a516" stroke="#333" stroke-width="0.35"/>
<text transform="translate(624.7 568.8) scale(0.6 1)" font-size="4" font-weight="normal" text-anchor="start" fill="#222">Asteraceae</text>
<ellipse cx="619.1" cy="580.0" rx="3.0" ry="4.7" fill="#ffaaff" stroke="#333" stroke-width="0.35"/>
<text transform="translate(624.7 579.9) scale(0.6 1)" font-size="4" font-weight="normal" text-anchor="start" fill="#222">Convolvulaceae</text>
<ellipse cx="619.1" cy="591.2" rx="3.0" ry="4.7" fill="#1e9df0" stroke="#333" stroke-width="0.35"/>
<text transform="translate(624.7 591.1) scale(0.6 1)" font-size="4" font-weight="normal" text-anchor="start" fill="#222">Cucurbitaceae</text>
<ellipse cx="619.1" cy="602.4" rx="3.0" ry="4.7" fill="#aa00ff" stroke="#333" stroke-width="0.35"/>
<text transform="translate(624.7 602.2) scale(0.6 1)" font-size="4" font-weight="normal" text-anchor="start" fill="#222">Euphorbiaceae</text>
<ellipse cx="619.1" cy="613.5" rx="3.0" ry="4.7" fill="#ffff00" stroke="#333" stroke-width="0.35"/>
<text transform="translate(624.7 613.4) scale(0.6 1)" font-size="4" font-weight="normal" text-anchor="start" fill="#222">Fabaceae</text>
<ellipse cx="619.1" cy="624.6" rx="3.0" ry="4.7" fill="#ff0000" stroke="#333" stroke-width="0.35"/>
<text transform="translate(624.7 624.5) scale(0.6 1)" font-size="4" font-weight="normal" text-anchor="start" fill="#222">Malvaceae</text>
<ellipse cx="619.1" cy="635.8" rx="3.0" ry="4.7" fill="#000000" stroke="#333" stroke-width="0.35"/>
<text transform="translate(624.7 635.7) scale(0.6 1)" font-size="4" font-weight="normal" text-anchor="start" fill="#222">Moraceae</text>
<ellipse cx="619.1" cy="646.9" rx="3.0" ry="4.7" fill="#555500" stroke="#333" stroke-width="0.35"/>
<text transform="translate(624.7 646.8) scale(0.6 1)" font-size="4" font-weight="normal" text-anchor="start" fill="#222">Solanaceae</text>
<ellipse cx="619.1" cy="658.1" rx="3.0" ry="4.7" fill="#e4e4e4" stroke="#333" stroke-width="0.35"/>
<text transform="translate(624.7 658.0) scale(0.6 1)" font-size="4" font-weight="normal" text-anchor="start" fill="#222">NA</text>
</g>
<path d="M286.7 0V684" stroke="#333" stroke-width="0.95" fill="none"/>
<path d="M286.5 0.7H685" stroke="#888" stroke-width="1.5" fill="none"/>
<path d="M286.5 342.4H685" stroke="#666" stroke-width="0.9" fill="none"/>
<path d="M247 684.2H685" stroke="#aaa" stroke-width="1.8" fill="none"/>
</svg></body></html>
